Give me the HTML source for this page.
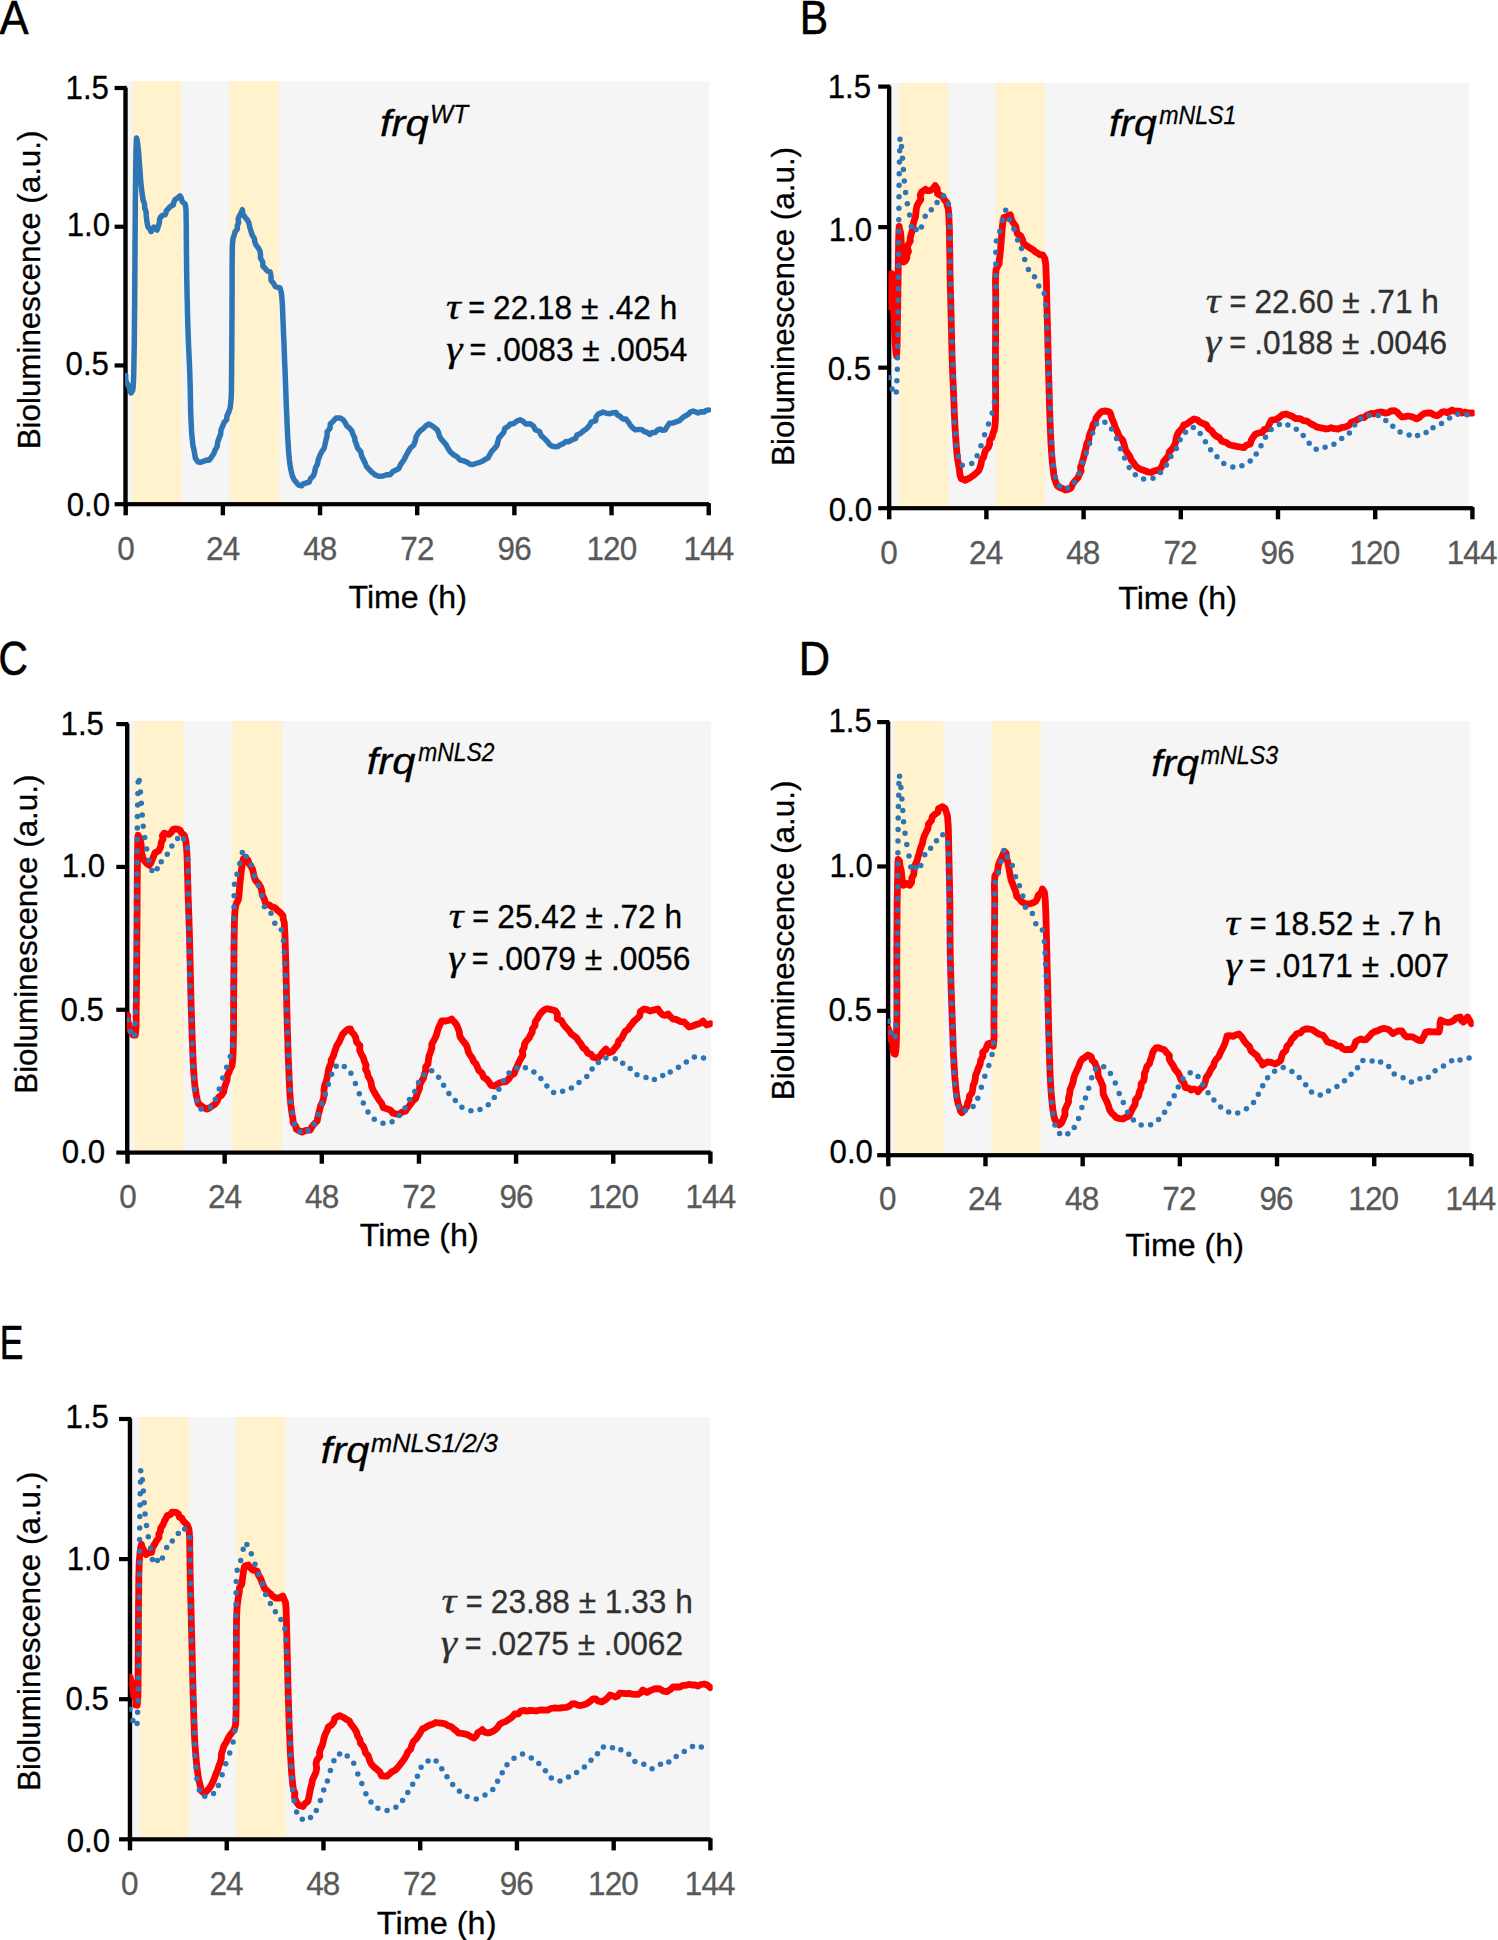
<!DOCTYPE html>
<html lang="en"><head><meta charset="utf-8"><title>Figure</title>
<style>
html,body{margin:0;padding:0;background:#fff;}
body{width:1498px;height:1940px;overflow:hidden;}
svg{display:block;}
text{white-space:pre;}
.s,.si{font-family:"Liberation Sans",sans-serif;}
.gi{font-family:"Liberation Serif",serif;font-style:italic;}
.si{font-style:italic;}
</style></head><body>
<svg width="1498" height="1940" viewBox="0 0 1498 1940">
<rect width="1498" height="1940" fill="#fff"/>
<g id="panel-A">
<rect x="124.40" y="81.30" width="584.60" height="422.70" fill="#F5F5F5"/>
<rect x="132.30" y="81.30" width="49.30" height="422.70" fill="#FFF2CC"/>
<rect x="229.60" y="81.30" width="49.40" height="422.70" fill="#FFF2CC"/>
<rect x="123.30" y="87.60" width="4.40" height="418.70" fill="#000"/>
<rect x="123.30" y="502.10" width="585.80" height="4.20" fill="#000"/>
<rect x="123.50" y="504.20" width="4.40" height="11.10" fill="#000"/>
<rect x="220.67" y="504.20" width="4.40" height="11.10" fill="#000"/>
<rect x="317.83" y="504.20" width="4.40" height="11.10" fill="#000"/>
<rect x="415.00" y="504.20" width="4.40" height="11.10" fill="#000"/>
<rect x="512.17" y="504.20" width="4.40" height="11.10" fill="#000"/>
<rect x="609.33" y="504.20" width="4.40" height="11.10" fill="#000"/>
<rect x="706.50" y="503.10" width="4.40" height="12.20" fill="#000"/>
<rect x="114.60" y="502.10" width="10.90" height="4.20" fill="#000"/>
<rect x="114.60" y="363.37" width="10.90" height="4.20" fill="#000"/>
<rect x="114.60" y="224.63" width="10.90" height="4.20" fill="#000"/>
<rect x="114.60" y="85.90" width="12.10" height="4.20" fill="#000"/>
<clipPath id="cpA"><rect x="124.95" y="58.00" width="586.05" height="456.20"/></clipPath>
<g clip-path="url(#cpA)">
<path d="M125.7 375.5 L125.7 378.9 L126.3 382.1 L128.0 385.0 L129.8 389.4 L131.0 393.0 L132.8 390.0 L133.3 385.1 L133.5 380.1 L133.7 375.0 L133.8 370.0 L133.9 364.5 L134.0 359.1 L134.1 353.6 L134.2 348.2 L134.3 342.7 L134.3 337.3 L134.4 331.8 L134.4 326.4 L134.5 320.9 L134.5 315.5 L134.6 310.0 L134.7 304.5 L134.7 299.1 L134.7 293.6 L134.8 288.2 L134.8 282.7 L134.8 277.3 L134.9 271.8 L134.9 266.4 L134.9 260.9 L135.0 255.5 L135.0 250.0 L135.0 244.2 L135.1 238.3 L135.1 232.5 L135.2 226.7 L135.2 220.8 L135.3 215.0 L135.3 209.2 L135.3 203.3 L135.4 197.5 L135.5 191.7 L135.5 185.8 L135.6 180.0 L135.7 174.6 L135.7 168.9 L135.8 163.2 L135.9 157.5 L136.0 152.0 L136.1 146.8 L136.3 142.1 L136.5 138.0 L137.1 140.0 L137.8 145.0 L138.3 149.5 L138.7 154.0 L139.0 158.5 L139.4 163.0 L139.8 168.3 L140.2 173.5 L140.5 178.8 L141.0 184.0 L141.6 189.3 L142.3 194.7 L143.1 200.0 L144.5 203.9 L144.7 208.0 L146.1 211.9 L146.3 216.0 L146.9 221.5 L147.9 226.8 L150.1 229.4 L151.1 231.6 L152.5 229.5 L153.8 227.0 L157.0 230.0 L158.2 226.8 L159.4 222.6 L159.7 218.6 L161.8 215.6 L165.5 214.5 L166.3 210.8 L169.0 207.8 L170.7 206.1 L173.3 205.0 L173.9 202.0 L175.1 199.5 L178.1 197.6 L180.0 195.8 L181.3 198.0 L182.1 201.5 L185.3 204.4 L186.0 210.1 L186.1 216.0 L186.2 221.7 L186.3 227.3 L186.3 233.0 L186.3 238.7 L186.4 244.3 L186.4 250.0 L186.5 255.0 L186.5 260.0 L186.6 265.0 L186.6 270.0 L186.7 275.0 L186.8 280.0 L186.9 285.6 L187.0 291.1 L187.1 296.7 L187.3 302.2 L187.4 307.8 L187.5 313.3 L187.7 318.9 L187.8 324.4 L188.0 330.0 L188.2 335.6 L188.4 341.1 L188.6 346.7 L188.9 352.2 L189.1 357.8 L189.4 363.3 L189.6 368.9 L189.8 374.4 L190.0 380.0 L190.2 385.7 L190.3 391.4 L190.4 397.1 L190.5 402.9 L190.6 408.6 L190.8 414.3 L191.0 420.0 L191.3 425.2 L191.5 430.4 L191.9 435.6 L192.4 440.8 L193.0 446.0 L194.0 450.0 L194.7 454.1 L195.4 458.2 L198.0 462.0 L200.9 462.3 L204.0 461.1 L206.6 460.1 L209.2 460.2 L211.4 457.1 L213.7 453.8 L215.1 450.1 L217.2 446.3 L217.7 442.0 L219.1 438.0 L220.7 434.1 L221.0 429.8 L222.8 425.9 L224.0 422.5 L226.7 419.7 L226.9 416.0 L228.9 411.8 L230.2 407.5 L230.7 403.0 L231.2 397.3 L231.4 391.5 L231.5 385.8 L231.5 380.0 L231.6 374.2 L231.6 368.3 L231.7 362.5 L231.7 356.7 L231.8 350.8 L231.8 345.0 L231.8 339.2 L231.9 333.3 L231.9 327.5 L231.9 321.7 L232.0 315.8 L232.0 310.0 L232.0 304.5 L232.0 299.1 L232.1 293.6 L232.1 288.2 L232.1 282.7 L232.1 277.3 L232.1 271.8 L232.1 266.4 L232.2 260.9 L232.2 255.5 L232.3 250.0 L232.4 244.2 L233.0 238.6 L234.2 235.2 L235.1 231.7 L237.4 229.0 L237.3 225.6 L238.6 222.6 L238.1 219.1 L239.2 216.1 L241.0 213.2 L242.4 209.7 L242.7 213.7 L245.5 217.9 L247.5 220.1 L248.9 223.0 L249.7 227.0 L250.9 231.0 L252.1 234.9 L254.3 238.4 L254.8 241.9 L256.0 245.1 L258.3 247.9 L260.0 251.0 L260.5 254.5 L260.5 258.1 L262.7 261.9 L262.9 266.0 L265.1 268.3 L267.1 270.9 L270.1 271.9 L271.0 275.9 L271.1 280.4 L273.5 283.3 L275.4 286.6 L280.0 288.0 L281.1 291.7 L281.7 295.9 L282.0 300.0 L282.4 305.0 L282.6 310.0 L282.8 315.0 L283.0 320.0 L283.2 325.0 L283.4 330.0 L283.6 335.6 L283.9 341.1 L284.1 346.7 L284.3 352.2 L284.5 357.8 L284.7 363.3 L285.0 368.9 L285.2 374.4 L285.4 380.0 L285.6 385.6 L285.8 391.1 L286.0 396.7 L286.2 402.2 L286.4 407.8 L286.7 413.3 L286.9 418.9 L287.1 424.4 L287.4 430.0 L287.6 435.0 L287.9 440.0 L288.2 445.0 L288.5 450.0 L288.9 455.0 L289.4 460.0 L290.1 465.4 L291.1 470.8 L292.4 476.0 L294.1 479.7 L296.6 482.8 L298.7 485.1 L301.6 485.8 L303.3 483.9 L306.0 483.0 L309.1 482.1 L310.6 478.5 L313.5 475.7 L314.7 471.9 L315.5 467.8 L317.5 464.0 L318.2 459.8 L319.7 455.9 L321.6 452.0 L324.1 448.3 L325.1 444.0 L326.0 440.0 L327.1 436.0 L327.1 431.7 L330.0 428.4 L330.3 424.0 L333.2 421.2 L336.0 418.1 L340.0 418.0 L343.0 419.6 L345.2 422.8 L347.0 426.1 L349.6 428.2 L351.9 431.0 L353.0 434.5 L354.7 437.7 L355.0 441.0 L356.3 443.9 L357.6 448.2 L360.8 451.7 L361.6 456.0 L363.5 459.8 L365.1 462.9 L366.4 466.4 L368.9 469.1 L372.0 472.4 L375.7 475.2 L379.3 476.3 L383.0 476.0 L386.4 474.8 L390.1 474.8 L392.6 471.7 L396.0 470.0 L398.9 468.5 L400.1 465.4 L401.8 462.9 L404.2 459.5 L406.0 455.7 L408.0 452.0 L410.2 448.3 L413.6 445.3 L415.2 441.2 L416.1 436.8 L418.2 433.1 L420.5 430.6 L423.4 428.5 L426.1 425.6 L429.0 424.0 L431.9 425.7 L435.1 427.9 L437.4 430.1 L438.7 433.1 L439.5 436.3 L441.4 439.4 L443.8 442.1 L446.2 444.9 L447.8 448.1 L450.2 451.8 L453.4 454.6 L457.2 456.9 L460.0 460.0 L463.7 460.9 L467.2 462.3 L470.0 464.2 L473.0 464.5 L476.0 463.5 L479.2 462.5 L482.4 461.3 L485.3 459.4 L488.2 457.8 L489.7 454.8 L491.6 451.5 L494.4 448.6 L496.9 445.5 L497.9 441.8 L498.8 438.1 L501.3 435.2 L503.7 432.5 L504.8 428.4 L508.3 426.4 L510.2 424.0 L513.4 423.7 L516.7 421.3 L520.0 419.7 L522.9 421.2 L525.6 423.9 L530.1 423.8 L533.4 426.0 L535.3 429.7 L539.5 431.5 L541.2 435.6 L544.5 438.5 L547.5 441.6 L549.3 444.3 L552.0 446.1 L555.0 446.8 L558.0 446.5 L560.4 444.7 L563.3 443.6 L565.8 441.5 L568.9 441.7 L572.0 439.9 L575.6 438.5 L576.9 435.1 L579.9 433.8 L583.2 431.1 L586.7 428.7 L589.4 425.7 L591.2 422.2 L595.7 420.6 L596.1 416.8 L598.1 414.1 L600.6 413.2 L603.0 412.0 L606.3 413.3 L610.0 413.7 L613.1 412.7 L616.0 412.5 L617.5 415.0 L620.3 416.5 L622.7 418.9 L625.9 419.1 L628.6 422.4 L630.9 426.1 L633.1 428.2 L635.7 429.9 L639.0 429.4 L642.1 429.8 L644.4 431.7 L647.3 432.5 L650.0 434.5 L652.1 432.6 L655.2 432.5 L657.4 430.1 L660.0 429.0 L662.5 430.3 L665.0 430.0 L667.0 426.8 L669.4 423.2 L673.0 422.9 L676.0 421.8 L679.6 420.6 L682.2 418.0 L685.1 416.0 L688.2 414.3 L690.4 412.0 L693.0 411.0 L695.4 411.9 L698.0 413.0 L700.8 411.8 L704.1 412.0 L706.2 410.4 L708.7 410.0" fill="none" stroke="#2E75B6" stroke-width="5.5" stroke-linejoin="round" stroke-linecap="round"/>
</g>
<text transform="translate(117.19 560.40) scale(0.9750 1)" class="s" font-size="32.30" letter-spacing="-0.9" fill="#595959" stroke="#595959" stroke-width="0.3" stroke-linejoin="round">0</text>
<text transform="translate(206.04 560.40) scale(0.9750 1)" class="s" font-size="32.30" letter-spacing="-0.9" fill="#595959" stroke="#595959" stroke-width="0.3" stroke-linejoin="round">24</text>
<text transform="translate(303.21 560.40) scale(0.9750 1)" class="s" font-size="32.30" letter-spacing="-0.9" fill="#595959" stroke="#595959" stroke-width="0.3" stroke-linejoin="round">48</text>
<text transform="translate(400.37 560.40) scale(0.9750 1)" class="s" font-size="32.30" letter-spacing="-0.9" fill="#595959" stroke="#595959" stroke-width="0.3" stroke-linejoin="round">72</text>
<text transform="translate(497.54 560.40) scale(0.9750 1)" class="s" font-size="32.30" letter-spacing="-0.9" fill="#595959" stroke="#595959" stroke-width="0.3" stroke-linejoin="round">96</text>
<text transform="translate(586.39 560.40) scale(0.9750 1)" class="s" font-size="32.30" letter-spacing="-0.9" fill="#595959" stroke="#595959" stroke-width="0.3" stroke-linejoin="round">120</text>
<text transform="translate(683.55 560.40) scale(0.9750 1)" class="s" font-size="32.30" letter-spacing="-0.9" fill="#595959" stroke="#595959" stroke-width="0.3" stroke-linejoin="round">144</text>
<text transform="translate(66.70 515.70) scale(0.9660 1)" class="s" font-size="32.30" fill="#000" stroke="#000" stroke-width="0.3" stroke-linejoin="round">0.0</text>
<text transform="translate(65.58 374.50) scale(0.9660 1)" class="s" font-size="32.30" fill="#000" stroke="#000" stroke-width="0.3" stroke-linejoin="round">0.5</text>
<text transform="translate(66.70 235.90) scale(0.9660 1)" class="s" font-size="32.30" fill="#000" stroke="#000" stroke-width="0.3" stroke-linejoin="round">1.0</text>
<text transform="translate(65.58 98.60) scale(0.9660 1)" class="s" font-size="32.30" fill="#000" stroke="#000" stroke-width="0.3" stroke-linejoin="round">1.5</text>
<text transform="translate(348.56 608.00) scale(1.0362 1)" class="s" font-size="31.00" fill="#000" stroke="#000" stroke-width="0.3" stroke-linejoin="round">Time (h)</text>
<text transform="translate(39.90 449.31) rotate(-90) scale(1.0115 1)" class="s" font-size="31.00" fill="#000" stroke="#000" stroke-width="0.3" stroke-linejoin="round">Bioluminescence (a.u.)</text>
<text y="135.60" fill="#000" stroke="#000" stroke-width="0.3" stroke-linejoin="round"><tspan class="si" x="379.95" font-size="37.20" textLength="48.65" lengthAdjust="spacingAndGlyphs">frq</tspan><tspan class="si" x="430.02" dy="-12.60" font-size="26.60" textLength="38.11" lengthAdjust="spacingAndGlyphs">WT</tspan></text>
<text y="319.30" fill="#000" stroke="#000" stroke-width="0.3" stroke-linejoin="round"><tspan class="gi" x="446.07" font-size="36.00" textLength="14.80" lengthAdjust="spacingAndGlyphs">τ</tspan> <tspan class="s" x="468.14" font-size="32.50" textLength="16.77" lengthAdjust="spacingAndGlyphs">=</tspan> <tspan class="s" x="493.12" font-size="32.50" textLength="184.09" lengthAdjust="spacingAndGlyphs">22.18 ± .42 h</tspan></text>
<text y="361.20" fill="#000" stroke="#000" stroke-width="0.3" stroke-linejoin="round"><tspan class="gi" x="446.18" font-size="36.00" textLength="16.26" lengthAdjust="spacingAndGlyphs">γ</tspan> <tspan class="s" x="469.54" font-size="32.50" textLength="16.77" lengthAdjust="spacingAndGlyphs">=</tspan> <tspan class="s" x="494.46" font-size="32.50" textLength="192.98" lengthAdjust="spacingAndGlyphs">.0083 ± .0054</tspan></text>
<text transform="translate(-0.50 34.20) scale(0.9004 1)" class="s" font-size="48.60" fill="#000" stroke="#000" stroke-width="0.6" stroke-linejoin="round">A</text>
</g>
<g id="panel-B">
<rect x="890.00" y="82.90" width="578.80" height="425.10" fill="#F5F5F5"/>
<rect x="899.00" y="82.90" width="49.20" height="425.10" fill="#FFF2CC"/>
<rect x="995.70" y="82.90" width="49.10" height="425.10" fill="#FFF2CC"/>
<rect x="886.95" y="86.20" width="4.40" height="424.10" fill="#000"/>
<rect x="886.95" y="506.10" width="585.85" height="4.20" fill="#000"/>
<rect x="887.00" y="508.20" width="4.40" height="11.10" fill="#000"/>
<rect x="984.20" y="508.20" width="4.40" height="11.10" fill="#000"/>
<rect x="1081.40" y="508.20" width="4.40" height="11.10" fill="#000"/>
<rect x="1178.60" y="508.20" width="4.40" height="11.10" fill="#000"/>
<rect x="1275.80" y="508.20" width="4.40" height="11.10" fill="#000"/>
<rect x="1373.00" y="508.20" width="4.40" height="11.10" fill="#000"/>
<rect x="1470.20" y="507.10" width="4.40" height="12.20" fill="#000"/>
<rect x="878.25" y="506.10" width="10.90" height="4.20" fill="#000"/>
<rect x="878.25" y="365.57" width="10.90" height="4.20" fill="#000"/>
<rect x="878.25" y="225.03" width="10.90" height="4.20" fill="#000"/>
<rect x="878.25" y="84.50" width="12.10" height="4.20" fill="#000"/>
<clipPath id="cpB"><rect x="888.45" y="56.60" width="586.25" height="461.60"/></clipPath>
<g clip-path="url(#cpB)">
<path d="M889.6 307.0 L889.8 301.3 L890.1 295.7 L890.4 290.0 L890.8 283.0 L891.3 276.0 L891.7 273.5 L892.0 276.2 L892.4 281.2 L892.6 287.4 L892.9 294.0 L893.2 300.0 L893.5 305.7 L893.7 311.4 L893.9 317.1 L894.2 322.9 L894.4 328.6 L894.7 334.3 L895.0 340.0 L895.5 347.0 L896.1 354.0 L896.5 356.0 L896.7 353.2 L896.9 348.9 L897.1 343.7 L897.2 337.8 L897.3 331.6 L897.4 325.5 L897.5 320.0 L897.6 314.2 L897.7 308.3 L897.8 302.5 L897.9 296.7 L897.9 290.8 L898.0 285.0 L898.1 279.2 L898.2 273.3 L898.2 267.5 L898.3 261.7 L898.4 255.8 L898.5 250.0 L898.6 243.6 L898.7 237.0 L898.9 230.9 L899.2 226.3 L899.2 228.1 L900.5 232.0 L900.9 236.3 L901.2 240.7 L901.5 245.0 L901.8 249.0 L902.2 253.0 L902.6 257.0 L902.8 259.8 L903.8 262.0 L905.3 261.0 L906.8 258.2 L906.8 255.0 L908.5 251.5 L907.3 247.5 L908.6 243.9 L910.3 241.1 L910.2 237.9 L910.9 234.9 L912.0 231.5 L912.8 228.0 L913.2 224.4 L914.0 220.9 L915.4 217.1 L915.9 213.0 L916.3 208.8 L917.2 205.4 L918.9 202.3 L920.9 199.3 L920.2 195.2 L921.8 191.8 L925.5 189.3 L927.5 190.7 L930.0 190.5 L932.8 188.8 L935.3 185.7 L937.3 188.9 L937.5 193.8 L940.1 195.1 L942.7 196.3 L944.2 199.7 L946.7 202.4 L947.1 205.5 L948.2 208.3 L948.7 213.6 L949.0 219.0 L949.2 224.3 L949.4 229.4 L949.5 234.6 L949.5 239.7 L949.6 244.9 L949.7 250.0 L949.8 255.0 L949.9 260.0 L949.9 265.0 L950.0 270.0 L950.1 275.0 L950.2 280.0 L950.3 285.7 L950.5 291.4 L950.6 297.1 L950.8 302.9 L950.9 308.6 L951.1 314.3 L951.2 320.0 L951.3 325.7 L951.5 331.4 L951.6 337.1 L951.7 342.9 L951.9 348.6 L952.0 354.3 L952.2 360.0 L952.4 365.7 L952.6 371.4 L952.8 377.1 L953.1 382.9 L953.3 388.6 L953.6 394.3 L953.8 400.0 L954.0 405.0 L954.2 410.0 L954.4 415.0 L954.7 420.0 L954.9 425.0 L955.2 430.0 L955.5 435.2 L955.9 440.4 L956.3 445.6 L956.7 450.8 L957.2 456.0 L957.7 460.0 L958.4 464.0 L959.2 468.0 L959.6 471.7 L960.0 475.3 L961.3 478.7 L965.3 480.3 L967.2 479.2 L969.4 478.2 L972.9 475.8 L975.9 473.4 L978.8 470.6 L980.1 467.2 L981.1 463.7 L981.7 460.1 L983.7 457.0 L984.5 453.5 L985.7 450.1 L988.5 447.3 L989.6 443.9 L989.7 440.1 L992.1 437.1 L992.9 433.5 L994.3 430.2 L995.0 425.2 L995.4 420.1 L995.5 415.0 L995.6 409.4 L995.6 403.8 L995.6 398.1 L995.6 392.5 L995.6 386.9 L995.5 381.3 L995.5 375.6 L995.5 370.0 L995.5 364.2 L995.5 358.3 L995.5 352.5 L995.5 346.7 L995.6 340.8 L995.6 335.0 L995.6 329.2 L995.6 323.3 L995.6 317.5 L995.6 311.7 L995.7 305.8 L995.7 300.0 L995.7 295.0 L995.6 290.0 L995.5 285.0 L995.5 279.9 L995.7 275.0 L996.0 270.0 L997.3 266.8 L999.2 263.7 L999.3 260.0 L1000.0 255.1 L1000.5 250.2 L1000.9 245.2 L1001.3 240.3 L1001.7 235.3 L1002.1 230.2 L1002.5 225.2 L1003.3 220.3 L1003.8 217.6 L1006.6 216.7 L1010.3 214.7 L1011.1 218.4 L1012.9 222.5 L1015.6 226.0 L1016.5 230.2 L1017.4 233.9 L1020.8 236.0 L1022.5 239.7 L1023.7 243.8 L1026.5 245.6 L1029.2 247.5 L1033.0 249.7 L1035.0 251.7 L1037.5 253.0 L1039.8 254.6 L1042.7 254.9 L1044.8 258.4 L1045.7 264.1 L1046.0 270.0 L1046.2 275.0 L1046.4 280.0 L1046.5 285.0 L1046.6 290.0 L1046.7 295.0 L1046.8 300.0 L1046.9 305.7 L1047.1 311.4 L1047.2 317.1 L1047.4 322.9 L1047.5 328.6 L1047.7 334.3 L1047.8 340.0 L1047.9 345.7 L1048.1 351.4 L1048.2 357.1 L1048.4 362.9 L1048.5 368.6 L1048.6 374.3 L1048.8 380.0 L1049.0 385.7 L1049.1 391.4 L1049.3 397.1 L1049.4 402.9 L1049.6 408.6 L1049.8 414.3 L1050.0 420.0 L1050.2 425.1 L1050.4 430.1 L1050.6 435.2 L1050.8 440.2 L1051.1 445.3 L1051.4 450.3 L1051.8 455.3 L1052.2 460.3 L1052.7 465.3 L1053.4 470.3 L1053.7 474.8 L1054.7 479.2 L1056.2 483.4 L1057.8 486.3 L1060.7 487.9 L1063.1 488.8 L1065.4 490.0 L1068.2 489.4 L1071.0 488.0 L1072.6 484.2 L1074.9 481.0 L1077.8 478.0 L1079.5 474.2 L1081.1 471.0 L1080.5 467.2 L1081.8 464.0 L1082.9 460.0 L1084.0 456.0 L1084.8 451.9 L1086.0 448.0 L1086.7 443.9 L1088.7 440.2 L1089.1 435.9 L1090.6 432.0 L1092.3 428.1 L1093.1 424.6 L1095.4 421.6 L1096.0 418.0 L1098.0 415.4 L1100.0 413.0 L1102.2 411.3 L1105.0 411.0 L1107.7 411.3 L1109.7 412.3 L1110.9 414.8 L1111.7 418.1 L1113.2 421.4 L1114.5 424.7 L1115.6 428.2 L1117.6 432.2 L1119.1 436.4 L1122.5 439.8 L1123.7 443.2 L1124.7 446.6 L1125.6 450.2 L1127.7 453.3 L1129.9 456.4 L1131.1 459.9 L1133.6 462.9 L1135.9 466.2 L1138.7 468.4 L1142.1 469.8 L1145.1 470.8 L1148.0 472.0 L1151.1 472.5 L1154.0 471.0 L1156.7 470.4 L1159.6 469.6 L1162.1 466.0 L1163.5 461.7 L1166.0 458.7 L1168.5 455.6 L1169.4 451.6 L1171.9 449.1 L1173.8 446.3 L1175.4 443.2 L1176.0 439.2 L1177.0 435.4 L1178.8 431.9 L1181.9 428.7 L1183.8 424.8 L1186.5 424.2 L1188.7 422.5 L1191.4 420.6 L1194.0 419.0 L1197.1 419.7 L1199.8 422.0 L1202.9 423.5 L1206.2 424.7 L1208.4 428.6 L1211.9 431.1 L1213.7 433.9 L1216.2 436.1 L1219.4 437.6 L1221.9 441.3 L1226.3 442.5 L1229.4 444.7 L1233.1 445.7 L1236.5 446.3 L1240.0 447.0 L1243.8 447.7 L1246.7 445.0 L1250.2 444.2 L1251.2 440.4 L1253.1 437.3 L1255.3 434.3 L1258.7 433.0 L1262.2 432.4 L1264.1 429.5 L1267.7 428.6 L1269.2 424.2 L1271.4 420.2 L1275.5 419.7 L1278.9 417.8 L1282.1 414.9 L1286.0 414.0 L1289.0 415.1 L1292.3 416.3 L1295.8 418.6 L1300.1 418.6 L1303.4 420.6 L1307.2 421.1 L1310.5 423.6 L1314.1 425.4 L1317.3 427.2 L1321.0 427.9 L1323.6 428.3 L1326.0 429.0 L1328.6 428.6 L1331.0 427.7 L1334.4 428.7 L1338.0 429.0 L1341.9 427.5 L1345.9 426.8 L1349.1 425.2 L1351.4 422.2 L1355.0 421.0 L1358.2 419.3 L1360.9 417.6 L1364.2 417.5 L1366.5 415.4 L1369.1 414.3 L1371.4 413.3 L1374.1 413.8 L1377.0 412.6 L1380.0 412.0 L1382.6 412.2 L1385.0 413.0 L1388.2 412.7 L1391.0 411.0 L1394.2 410.7 L1397.0 412.0 L1399.4 414.7 L1402.0 417.0 L1404.9 416.6 L1408.0 416.0 L1411.1 416.5 L1414.0 417.7 L1416.6 418.8 L1419.0 417.7 L1421.3 415.5 L1423.9 413.7 L1427.4 413.0 L1431.0 413.0 L1433.9 414.9 L1437.0 415.7 L1439.6 414.2 L1442.0 412.0 L1444.5 411.6 L1447.0 412.5 L1449.7 411.5 L1452.0 410.0 L1454.3 411.2 L1456.9 411.2 L1459.9 411.2 L1462.0 413.0 L1465.0 412.1 L1468.0 413.0 L1472.4 413.0" fill="none" stroke="#FF0000" stroke-width="6.8" stroke-linejoin="round" stroke-linecap="round"/>
<path d="M889.2 377.8h0 M892.1 389.0h0 M896.3 392.1h0 M896.9 380.7h0 M897.3 369.2h0 M897.5 357.8h0 M897.6 346.2h0 M897.8 334.7h0 M897.9 323.3h0 M898.1 311.7h0 M898.2 300.2h0 M898.3 288.8h0 M898.3 277.2h0 M898.4 265.7h0 M898.5 254.3h0 M898.6 242.7h0 M898.7 231.3h0 M898.8 219.7h0 M898.9 208.2h0 M899.0 196.8h0 M899.1 185.2h0 M899.2 173.8h0 M899.5 162.1h0 M899.7 150.7h0 M900.0 139.3h0 M901.5 146.5h0 M902.5 158.2h0 M903.4 169.6h0 M904.3 181.0h0 M905.6 192.4h0 M907.3 203.8h0 M909.6 215.1h0 M911.3 226.4h0 M916.2 229.4h0 M921.4 227.1h0 M925.2 216.2h0 M931.3 209.8h0 M937.1 202.5h0 M943.6 196.0h0 M948.4 204.0h0 M949.6 215.5h0 M949.7 226.9h0 M949.8 238.3h0 M949.9 249.9h0 M950.1 261.4h0 M950.2 272.8h0 M950.4 284.3h0 M950.7 295.9h0 M950.9 307.3h0 M951.2 318.9h0 M951.5 330.3h0 M951.9 341.7h0 M952.4 353.4h0 M952.8 364.8h0 M953.3 376.4h0 M953.7 387.8h0 M953.9 399.2h0 M954.2 410.9h0 M954.5 422.3h0 M955.3 433.7h0 M956.2 445.3h0 M958.3 456.5h0 M962.3 465.3h0 M971.7 463.6h0 M977.1 455.7h0 M981.0 445.8h0 M984.6 434.8h0 M988.5 423.9h0 M992.2 413.0h0 M994.4 401.9h0 M994.8 390.4h0 M995.1 379.0h0 M995.1 367.4h0 M995.2 355.9h0 M995.3 344.3h0 M995.4 332.9h0 M995.5 321.5h0 M995.5 309.9h0 M995.6 298.4h0 M995.7 286.8h0 M995.7 275.4h0 M995.8 263.9h0 M995.8 252.3h0 M996.4 241.0h0 M999.8 231.5h0 M1002.3 220.3h0 M1005.7 210.2h0 M1009.4 219.8h0 M1013.9 229.1h0 M1017.6 239.9h0 M1021.5 248.5h0 M1024.7 259.6h0 M1028.4 269.4h0 M1034.5 276.7h0 M1038.8 286.0h0 M1044.2 293.4h0 M1045.7 304.7h0 M1046.2 316.3h0 M1046.8 327.7h0 M1047.3 339.3h0 M1047.7 350.8h0 M1048.2 362.4h0 M1048.6 373.8h0 M1049.1 385.2h0 M1049.5 396.8h0 M1050.0 408.2h0 M1050.4 419.8h0 M1050.9 431.2h0 M1051.6 442.6h0 M1052.4 454.2h0 M1053.4 465.6h0 M1055.4 476.9h0 M1059.6 486.0h0 M1067.5 488.0h0 M1074.6 482.2h0 M1079.2 473.5h0 M1082.6 462.5h0 M1086.2 453.0h0 M1089.5 443.5h0 M1092.6 432.9h0 M1096.5 424.1h0 M1104.9 422.2h0 M1111.6 429.0h0 M1116.5 438.5h0 M1120.4 448.8h0 M1124.6 458.0h0 M1129.2 467.5h0 M1135.3 474.7h0 M1143.6 479.0h0 M1153.0 478.2h0 M1160.5 472.5h0 M1166.4 465.1h0 M1170.9 456.6h0 M1176.4 448.6h0 M1180.1 439.8h0 M1185.5 432.2h0 M1193.3 427.4h0 M1200.2 433.6h0 M1205.4 441.8h0 M1210.6 449.8h0 M1217.0 456.8h0 M1223.8 463.5h0 M1232.8 467.0h0 M1241.9 465.8h0 M1250.2 461.1h0 M1256.2 454.0h0 M1261.0 445.7h0 M1265.5 437.2h0 M1271.2 429.5h0 M1279.4 424.6h0 M1287.9 425.0h0 M1296.3 429.2h0 M1303.2 435.6h0 M1309.2 443.2h0 M1316.2 449.3h0 M1325.1 447.3h0 M1333.9 444.3h0 M1341.7 438.5h0 M1349.4 433.0h0 M1354.7 424.9h0 M1360.8 418.5h0 M1369.0 415.4h0 M1378.3 415.6h0 M1385.8 420.6h0 M1392.8 426.3h0 M1400.1 432.1h0 M1409.1 435.1h0 M1417.6 435.6h0 M1426.1 432.5h0 M1433.0 427.7h0 M1441.5 423.4h0 M1449.6 418.1h0 M1457.8 414.3h0 M1466.9 414.7h0" fill="none" stroke="#2E75B6" stroke-width="5.5" stroke-linecap="round"/>
</g>
<text transform="translate(880.14 564.40) scale(0.9750 1)" class="s" font-size="32.30" letter-spacing="-0.9" fill="#595959" stroke="#595959" stroke-width="0.3" stroke-linejoin="round">0</text>
<text transform="translate(969.02 564.40) scale(0.9750 1)" class="s" font-size="32.30" letter-spacing="-0.9" fill="#595959" stroke="#595959" stroke-width="0.3" stroke-linejoin="round">24</text>
<text transform="translate(1066.22 564.40) scale(0.9750 1)" class="s" font-size="32.30" letter-spacing="-0.9" fill="#595959" stroke="#595959" stroke-width="0.3" stroke-linejoin="round">48</text>
<text transform="translate(1163.42 564.40) scale(0.9750 1)" class="s" font-size="32.30" letter-spacing="-0.9" fill="#595959" stroke="#595959" stroke-width="0.3" stroke-linejoin="round">72</text>
<text transform="translate(1260.62 564.40) scale(0.9750 1)" class="s" font-size="32.30" letter-spacing="-0.9" fill="#595959" stroke="#595959" stroke-width="0.3" stroke-linejoin="round">96</text>
<text transform="translate(1349.50 564.40) scale(0.9750 1)" class="s" font-size="32.30" letter-spacing="-0.9" fill="#595959" stroke="#595959" stroke-width="0.3" stroke-linejoin="round">120</text>
<text transform="translate(1446.70 564.40) scale(0.9750 1)" class="s" font-size="32.30" letter-spacing="-0.9" fill="#595959" stroke="#595959" stroke-width="0.3" stroke-linejoin="round">144</text>
<text transform="translate(828.80 520.50) scale(0.9660 1)" class="s" font-size="32.30" fill="#000" stroke="#000" stroke-width="0.3" stroke-linejoin="round">0.0</text>
<text transform="translate(827.68 379.70) scale(0.9660 1)" class="s" font-size="32.30" fill="#000" stroke="#000" stroke-width="0.3" stroke-linejoin="round">0.5</text>
<text transform="translate(828.80 240.70) scale(0.9660 1)" class="s" font-size="32.30" fill="#000" stroke="#000" stroke-width="0.3" stroke-linejoin="round">1.0</text>
<text transform="translate(827.68 98.10) scale(0.9660 1)" class="s" font-size="32.30" fill="#000" stroke="#000" stroke-width="0.3" stroke-linejoin="round">1.5</text>
<text transform="translate(1118.16 609.30) scale(1.0398 1)" class="s" font-size="31.00" fill="#000" stroke="#000" stroke-width="0.3" stroke-linejoin="round">Time (h)</text>
<text transform="translate(794.30 465.91) rotate(-90) scale(1.0121 1)" class="s" font-size="31.00" fill="#000" stroke="#000" stroke-width="0.3" stroke-linejoin="round">Bioluminescence (a.u.)</text>
<text y="135.80" fill="#000" stroke="#000" stroke-width="0.3" stroke-linejoin="round"><tspan class="si" x="1108.97" font-size="37.20" textLength="47.82" lengthAdjust="spacingAndGlyphs">frq</tspan><tspan class="si" x="1159.15" dy="-12.20" font-size="26.60" textLength="77.20" lengthAdjust="spacingAndGlyphs">mNLS1</tspan></text>
<text y="313.40" fill="#303030" stroke="#303030" stroke-width="0.3" stroke-linejoin="round"><tspan class="gi" x="1205.77" font-size="36.00" textLength="14.80" lengthAdjust="spacingAndGlyphs">τ</tspan> <tspan class="s" x="1229.44" font-size="32.50" textLength="16.77" lengthAdjust="spacingAndGlyphs">=</tspan> <tspan class="s" x="1254.42" font-size="32.50" textLength="184.50" lengthAdjust="spacingAndGlyphs">22.60 ± .71 h</tspan></text>
<text y="354.20" fill="#303030" stroke="#303030" stroke-width="0.3" stroke-linejoin="round"><tspan class="gi" x="1205.08" font-size="36.00" textLength="16.26" lengthAdjust="spacingAndGlyphs">γ</tspan> <tspan class="s" x="1229.24" font-size="32.50" textLength="16.77" lengthAdjust="spacingAndGlyphs">=</tspan> <tspan class="s" x="1254.16" font-size="32.50" textLength="192.85" lengthAdjust="spacingAndGlyphs">.0188 ± .0046</tspan></text>
<text transform="translate(799.79 34.20) scale(0.8769 1)" class="s" font-size="48.60" fill="#000" stroke="#000" stroke-width="0.6" stroke-linejoin="round">B</text>
</g>
<g id="panel-C">
<rect x="128.00" y="721.10" width="583.20" height="430.90" fill="#F5F5F5"/>
<rect x="134.00" y="721.10" width="49.90" height="430.90" fill="#FFF2CC"/>
<rect x="232.30" y="721.10" width="49.50" height="430.90" fill="#FFF2CC"/>
<rect x="125.00" y="723.70" width="4.40" height="431.00" fill="#000"/>
<rect x="125.00" y="1150.50" width="585.80" height="4.20" fill="#000"/>
<rect x="125.30" y="1152.60" width="4.40" height="11.10" fill="#000"/>
<rect x="222.45" y="1152.60" width="4.40" height="11.10" fill="#000"/>
<rect x="319.60" y="1152.60" width="4.40" height="11.10" fill="#000"/>
<rect x="416.75" y="1152.60" width="4.40" height="11.10" fill="#000"/>
<rect x="513.90" y="1152.60" width="4.40" height="11.10" fill="#000"/>
<rect x="611.05" y="1152.60" width="4.40" height="11.10" fill="#000"/>
<rect x="708.20" y="1151.50" width="4.40" height="12.20" fill="#000"/>
<rect x="116.30" y="1150.50" width="10.90" height="4.20" fill="#000"/>
<rect x="116.30" y="1007.67" width="10.90" height="4.20" fill="#000"/>
<rect x="116.30" y="864.83" width="10.90" height="4.20" fill="#000"/>
<rect x="116.30" y="722.00" width="12.10" height="4.20" fill="#000"/>
<clipPath id="cpC"><rect x="126.75" y="694.10" width="585.95" height="468.50"/></clipPath>
<g clip-path="url(#cpC)">
<path d="M127.7 1015.5 L127.5 1019.9 L128.7 1024.1 L129.4 1028.4 L131.3 1032.2 L132.9 1035.2 L135.2 1035.2 L135.8 1031.0 L136.1 1026.1 L136.2 1020.7 L136.2 1015.3 L136.2 1010.0 L136.3 1004.5 L136.4 999.1 L136.4 993.6 L136.5 988.2 L136.6 982.7 L136.6 977.3 L136.6 971.8 L136.7 966.4 L136.7 960.9 L136.8 955.5 L136.8 950.0 L136.8 944.5 L136.9 939.1 L136.9 933.6 L137.0 928.2 L137.0 922.7 L137.0 917.3 L137.1 911.8 L137.1 906.4 L137.1 900.9 L137.2 895.5 L137.2 890.0 L137.2 884.3 L137.3 878.6 L137.3 872.9 L137.4 867.1 L137.4 861.4 L137.5 855.7 L137.6 850.0 L137.7 844.0 L137.8 838.0 L138.2 835.3 L139.0 836.9 L140.5 840.8 L141.3 845.7 L141.2 850.3 L141.8 853.8 L142.8 857.2 L144.1 860.4 L146.8 863.6 L149.2 865.3 L150.7 863.3 L152.2 859.9 L153.5 856.5 L155.0 852.7 L158.8 850.7 L160.7 846.7 L161.3 842.3 L162.9 839.3 L162.4 835.6 L164.2 833.3 L166.5 833.9 L169.2 834.3 L171.4 832.1 L173.2 829.3 L175.6 828.8 L178.2 829.3 L180.4 830.5 L181.4 832.9 L184.2 835.1 L185.2 838.3 L186.0 842.2 L186.4 846.3 L186.7 850.3 L187.0 855.3 L187.2 860.3 L187.3 865.3 L187.4 870.3 L187.6 875.3 L187.7 880.3 L187.9 885.2 L188.0 890.2 L188.1 895.1 L188.3 900.0 L188.5 905.0 L188.6 910.0 L188.8 915.0 L189.0 920.0 L189.1 925.0 L189.3 930.0 L189.5 935.7 L189.6 941.4 L189.7 947.1 L189.9 952.9 L190.0 958.6 L190.2 964.3 L190.3 970.0 L190.4 975.7 L190.6 981.4 L190.7 987.1 L190.8 992.9 L191.0 998.6 L191.1 1004.3 L191.3 1010.0 L191.5 1015.7 L191.7 1021.4 L191.8 1027.1 L192.0 1032.9 L192.2 1038.6 L192.5 1044.3 L192.7 1050.0 L192.9 1055.0 L193.1 1060.0 L193.3 1065.0 L193.6 1070.0 L193.9 1075.0 L194.3 1080.0 L194.8 1085.0 L195.5 1090.1 L196.3 1095.1 L197.3 1100.0 L198.2 1103.4 L200.9 1105.4 L204.3 1108.0 L206.8 1109.0 L209.3 1108.0 L211.9 1106.2 L214.7 1104.4 L217.1 1101.2 L218.5 1097.5 L221.6 1095.0 L223.7 1091.9 L224.3 1088.0 L225.7 1084.0 L227.1 1080.1 L227.4 1075.7 L228.9 1072.4 L230.2 1069.1 L231.9 1066.0 L232.6 1061.1 L232.9 1056.1 L233.2 1051.0 L233.3 1046.0 L233.4 1040.4 L233.5 1034.8 L233.6 1029.2 L233.6 1023.6 L233.6 1018.0 L233.6 1012.4 L233.6 1006.8 L233.6 1001.2 L233.7 995.6 L233.7 990.0 L233.7 984.5 L233.8 979.1 L233.8 973.6 L233.9 968.2 L233.9 962.7 L233.9 957.3 L234.0 951.8 L234.0 946.4 L234.1 940.9 L234.2 935.5 L234.3 930.0 L234.4 924.5 L234.5 918.9 L234.8 913.4 L235.3 908.0 L236.2 903.8 L238.3 900.0 L239.0 895.1 L239.4 890.2 L239.8 885.2 L240.3 880.3 L240.8 875.8 L241.3 871.2 L241.9 866.7 L242.7 862.3 L243.2 859.0 L245.3 857.3 L248.1 860.4 L249.1 863.7 L251.1 866.4 L252.6 869.5 L253.4 873.0 L254.0 876.4 L255.7 880.6 L258.9 884.1 L260.7 887.2 L261.8 890.7 L262.1 894.4 L263.4 897.1 L264.6 899.9 L266.0 904.5 L269.3 904.9 L271.9 906.9 L275.1 907.7 L277.3 910.1 L280.4 912.6 L283.0 915.7 L283.2 919.2 L284.3 922.5 L284.4 926.0 L284.7 930.8 L285.0 935.6 L285.1 940.4 L285.3 945.2 L285.4 950.0 L285.6 955.7 L285.7 961.4 L285.9 967.1 L286.0 972.9 L286.1 978.6 L286.3 984.3 L286.4 990.0 L286.5 995.7 L286.7 1001.4 L286.8 1007.1 L286.9 1012.9 L287.1 1018.6 L287.2 1024.3 L287.4 1030.0 L287.6 1035.7 L287.8 1041.4 L287.9 1047.1 L288.1 1052.9 L288.3 1058.6 L288.6 1064.3 L288.8 1070.0 L289.0 1075.0 L289.2 1080.0 L289.5 1085.0 L289.7 1090.0 L290.0 1095.0 L290.4 1100.0 L290.8 1104.6 L291.4 1109.2 L292.0 1113.8 L292.8 1118.3 L293.2 1122.6 L295.6 1126.2 L296.4 1129.3 L299.1 1130.8 L302.0 1132.0 L305.9 1130.4 L310.2 1130.1 L312.1 1126.6 L314.5 1123.7 L317.2 1120.9 L317.8 1117.2 L318.7 1113.5 L319.7 1109.9 L320.5 1105.9 L322.5 1102.1 L323.5 1098.1 L324.1 1094.0 L323.9 1089.8 L324.6 1085.8 L326.0 1081.9 L327.0 1078.0 L327.9 1074.0 L328.4 1070.3 L329.3 1066.8 L331.1 1063.5 L331.2 1059.7 L333.2 1056.5 L334.2 1052.9 L335.5 1049.4 L336.6 1045.9 L339.1 1042.1 L340.8 1038.1 L342.5 1034.3 L345.5 1031.1 L348.0 1029.2 L350.5 1029.0 L351.3 1031.7 L354.0 1034.4 L355.7 1037.6 L356.6 1042.2 L359.9 1045.7 L359.6 1050.2 L361.3 1054.1 L363.4 1057.8 L364.5 1061.8 L366.1 1065.2 L365.5 1069.3 L367.4 1072.6 L368.1 1076.3 L370.1 1079.5 L371.2 1083.1 L371.7 1086.9 L373.3 1090.3 L375.1 1093.6 L377.1 1096.8 L379.0 1100.0 L381.7 1103.4 L383.3 1107.7 L387.1 1108.8 L390.5 1110.2 L392.8 1113.0 L396.0 1114.0 L399.1 1114.4 L401.6 1112.3 L405.5 1111.2 L407.8 1107.9 L410.3 1104.4 L412.8 1100.9 L415.7 1098.6 L416.7 1095.2 L418.0 1092.0 L419.5 1088.6 L419.8 1084.8 L421.5 1081.4 L423.5 1078.1 L424.3 1074.5 L425.7 1071.0 L425.6 1067.1 L428.0 1063.9 L428.4 1060.1 L429.0 1056.0 L430.5 1052.1 L431.8 1048.2 L431.8 1043.9 L434.1 1040.1 L436.1 1036.0 L437.3 1031.9 L438.5 1027.8 L440.2 1024.2 L441.6 1021.0 L446.0 1021.0 L449.1 1020.2 L451.6 1019.0 L453.2 1020.8 L455.2 1022.9 L457.0 1025.7 L458.2 1028.7 L459.3 1031.9 L459.9 1036.3 L462.2 1039.9 L464.2 1042.4 L466.1 1044.9 L467.5 1048.2 L468.3 1051.8 L470.0 1055.0 L472.2 1057.8 L473.5 1061.3 L476.0 1063.8 L477.4 1067.0 L478.7 1070.2 L482.0 1073.2 L483.6 1077.4 L486.8 1079.2 L488.9 1082.1 L491.1 1085.3 L494.5 1086.0 L496.9 1084.4 L499.9 1082.7 L503.0 1082.0 L505.8 1081.6 L508.6 1079.2 L510.7 1075.8 L514.2 1073.5 L515.6 1069.8 L517.4 1066.0 L519.0 1062.0 L520.8 1058.6 L522.9 1055.3 L522.3 1051.1 L524.1 1047.7 L524.6 1043.8 L526.6 1040.7 L529.1 1038.0 L530.4 1035.1 L532.2 1032.3 L532.5 1028.8 L535.0 1025.7 L535.3 1021.6 L537.6 1018.3 L539.6 1014.7 L542.0 1011.9 L544.6 1009.7 L547.2 1008.7 L550.1 1009.4 L552.8 1010.0 L555.3 1010.7 L557.5 1013.9 L557.2 1018.6 L561.4 1020.5 L563.5 1024.5 L566.3 1027.7 L569.2 1030.8 L571.2 1033.8 L574.1 1035.9 L576.6 1037.9 L578.3 1040.6 L580.8 1043.6 L582.7 1047.2 L585.9 1049.7 L587.9 1053.2 L591.1 1054.3 L593.1 1057.3 L596.0 1058.0 L599.3 1057.0 L601.7 1053.6 L604.0 1051.0 L606.0 1049.0 L607.4 1050.8 L609.0 1053.0 L612.4 1051.5 L614.9 1048.1 L617.9 1044.5 L618.7 1040.8 L621.6 1038.5 L623.3 1034.9 L625.2 1031.4 L628.0 1029.5 L629.5 1026.8 L631.6 1024.5 L633.9 1021.4 L636.8 1018.8 L639.7 1015.9 L640.4 1011.6 L644.0 1009.0 L647.0 1009.6 L650.0 1011.0 L654.2 1009.9 L658.0 1009.0 L660.0 1012.3 L663.0 1015.0 L665.6 1015.4 L668.0 1014.0 L670.3 1016.6 L673.0 1019.1 L675.5 1019.3 L677.9 1020.2 L680.8 1021.7 L684.0 1021.9 L686.7 1024.5 L689.0 1027.0 L692.3 1026.2 L695.8 1024.6 L700.1 1023.5 L703.0 1021.0 L704.6 1023.0 L706.5 1025.0 L710.4 1023.7" fill="none" stroke="#FF0000" stroke-width="6.8" stroke-linejoin="round" stroke-linecap="round"/>
<path d="M127.5 1020.1h0 M130.4 1031.4h0 M134.6 1035.0h0 M135.2 1023.6h0 M135.6 1012.0h0 M135.8 1000.6h0 M135.9 989.0h0 M136.1 977.5h0 M136.2 966.1h0 M136.4 954.5h0 M136.5 943.0h0 M136.5 931.6h0 M136.6 920.0h0 M136.7 908.5h0 M136.8 897.1h0 M136.8 885.5h0 M136.9 874.1h0 M137.0 862.5h0 M137.1 851.0h0 M137.2 839.6h0 M137.3 828.0h0 M137.4 816.6h0 M137.7 805.0h0 M137.9 793.6h0 M138.2 782.0h0 M139.2 780.6h0 M140.4 792.0h0 M141.3 803.3h0 M142.2 814.9h0 M143.2 826.3h0 M144.7 837.6h0 M146.7 848.9h0 M148.8 860.4h0 M151.9 870.4h0 M157.2 868.8h0 M161.2 861.8h0 M167.3 854.3h0 M171.9 846.0h0 M177.6 838.5h0 M183.6 839.0h0 M187.4 848.0h0 M187.9 859.5h0 M188.0 870.9h0 M188.1 882.5h0 M188.2 893.9h0 M188.4 905.5h0 M188.5 917.0h0 M188.7 928.4h0 M189.0 940.0h0 M189.3 951.4h0 M189.6 963.0h0 M189.8 974.5h0 M190.3 985.9h0 M190.7 997.5h0 M191.2 1008.9h0 M191.6 1020.3h0 M192.0 1032.0h0 M192.2 1043.4h0 M192.5 1054.9h0 M192.8 1066.3h0 M193.7 1077.9h0 M194.5 1089.3h0 M196.7 1100.5h0 M201.0 1108.9h0 M210.4 1107.2h0 M215.4 1099.2h0 M219.3 1089.1h0 M222.8 1078.1h0 M226.7 1067.2h0 M230.3 1056.4h0 M232.6 1045.2h0 M233.0 1033.6h0 M233.3 1022.1h0 M233.4 1010.7h0 M233.5 999.1h0 M233.5 987.7h0 M233.6 976.1h0 M233.7 964.7h0 M233.8 953.1h0 M233.8 941.6h0 M233.9 930.2h0 M233.9 918.6h0 M234.0 907.1h0 M234.1 895.7h0 M234.5 884.2h0 M237.0 874.2h0 M239.8 863.6h0 M242.3 852.4h0 M246.1 856.5h0 M251.2 865.1h0 M254.4 876.1h0 M258.3 885.5h0 M261.8 895.6h0 M264.4 906.8h0 M271.0 913.3h0 M274.8 923.3h0 M281.4 929.8h0 M283.5 940.8h0 M284.2 952.2h0 M284.7 963.6h0 M285.3 975.3h0 M285.7 986.7h0 M286.1 998.1h0 M286.6 1009.7h0 M287.0 1021.1h0 M287.5 1032.5h0 M287.9 1044.2h0 M288.4 1055.6h0 M288.8 1067.2h0 M289.3 1078.6h0 M290.1 1090.0h0 M290.8 1101.5h0 M292.2 1112.8h0 M294.5 1124.1h0 M300.0 1131.8h0 M308.2 1130.6h0 M314.1 1124.0h0 M318.3 1114.5h0 M321.7 1103.4h0 M325.3 1094.4h0 M328.3 1084.3h0 M331.6 1074.2h0 M336.2 1066.3h0 M344.3 1066.5h0 M350.9 1073.3h0 M355.4 1083.5h0 M359.3 1093.7h0 M363.3 1103.1h0 M368.0 1112.1h0 M374.3 1119.3h0 M383.0 1123.2h0 M392.1 1121.8h0 M399.3 1115.5h0 M405.0 1107.9h0 M409.5 1099.4h0 M414.8 1091.5h0 M418.5 1082.5h0 M424.0 1074.9h0 M431.7 1070.7h0 M438.6 1077.2h0 M443.6 1085.3h0 M448.9 1093.4h0 M455.3 1100.5h0 M461.9 1107.2h0 M470.9 1110.7h0 M480.0 1109.5h0 M488.3 1104.8h0 M494.3 1097.6h0 M498.9 1089.3h0 M503.4 1080.8h0 M509.0 1073.0h0 M516.9 1067.9h0 M525.4 1067.7h0 M533.9 1071.9h0 M540.9 1078.5h0 M546.9 1085.9h0 M553.6 1092.6h0 M562.6 1091.2h0 M571.4 1088.1h0 M579.0 1082.4h0 M586.8 1076.6h0 M592.1 1069.0h0 M598.4 1062.5h0 M605.9 1058.0h0 M615.3 1058.7h0 M622.7 1063.2h0 M630.2 1068.4h0 M637.0 1074.8h0 M646.0 1077.6h0 M654.4 1079.5h0 M662.7 1075.4h0 M670.2 1071.9h0 M678.4 1067.2h0 M686.3 1061.9h0 M694.4 1056.9h0 M703.5 1057.9h0" fill="none" stroke="#2E75B6" stroke-width="5.5" stroke-linecap="round"/>
</g>
<text transform="translate(119.14 1208.30) scale(0.9750 1)" class="s" font-size="32.30" letter-spacing="-0.9" fill="#595959" stroke="#595959" stroke-width="0.3" stroke-linejoin="round">0</text>
<text transform="translate(207.97 1208.30) scale(0.9750 1)" class="s" font-size="32.30" letter-spacing="-0.9" fill="#595959" stroke="#595959" stroke-width="0.3" stroke-linejoin="round">24</text>
<text transform="translate(305.12 1208.30) scale(0.9750 1)" class="s" font-size="32.30" letter-spacing="-0.9" fill="#595959" stroke="#595959" stroke-width="0.3" stroke-linejoin="round">48</text>
<text transform="translate(402.27 1208.30) scale(0.9750 1)" class="s" font-size="32.30" letter-spacing="-0.9" fill="#595959" stroke="#595959" stroke-width="0.3" stroke-linejoin="round">72</text>
<text transform="translate(499.42 1208.30) scale(0.9750 1)" class="s" font-size="32.30" letter-spacing="-0.9" fill="#595959" stroke="#595959" stroke-width="0.3" stroke-linejoin="round">96</text>
<text transform="translate(588.25 1208.30) scale(0.9750 1)" class="s" font-size="32.30" letter-spacing="-0.9" fill="#595959" stroke="#595959" stroke-width="0.3" stroke-linejoin="round">120</text>
<text transform="translate(685.40 1208.30) scale(0.9750 1)" class="s" font-size="32.30" letter-spacing="-0.9" fill="#595959" stroke="#595959" stroke-width="0.3" stroke-linejoin="round">144</text>
<text transform="translate(61.70 1162.60) scale(0.9660 1)" class="s" font-size="32.30" fill="#000" stroke="#000" stroke-width="0.3" stroke-linejoin="round">0.0</text>
<text transform="translate(60.58 1020.70) scale(0.9660 1)" class="s" font-size="32.30" fill="#000" stroke="#000" stroke-width="0.3" stroke-linejoin="round">0.5</text>
<text transform="translate(61.70 876.90) scale(0.9660 1)" class="s" font-size="32.30" fill="#000" stroke="#000" stroke-width="0.3" stroke-linejoin="round">1.0</text>
<text transform="translate(60.58 735.20) scale(0.9660 1)" class="s" font-size="32.30" fill="#000" stroke="#000" stroke-width="0.3" stroke-linejoin="round">1.5</text>
<text transform="translate(359.75 1245.90) scale(1.0434 1)" class="s" font-size="31.00" fill="#000" stroke="#000" stroke-width="0.3" stroke-linejoin="round">Time (h)</text>
<text transform="translate(37.20 1093.81) rotate(-90) scale(1.0131 1)" class="s" font-size="31.00" fill="#000" stroke="#000" stroke-width="0.3" stroke-linejoin="round">Bioluminescence (a.u.)</text>
<text y="773.90" fill="#000" stroke="#000" stroke-width="0.3" stroke-linejoin="round"><tspan class="si" x="366.75" font-size="37.20" textLength="48.65" lengthAdjust="spacingAndGlyphs">frq</tspan><tspan class="si" x="418.26" dy="-12.50" font-size="26.60" textLength="76.07" lengthAdjust="spacingAndGlyphs">mNLS2</tspan></text>
<text y="927.70" fill="#000" stroke="#000" stroke-width="0.3" stroke-linejoin="round"><tspan class="gi" x="448.77" font-size="36.00" textLength="14.80" lengthAdjust="spacingAndGlyphs">τ</tspan> <tspan class="s" x="472.34" font-size="32.50" textLength="16.77" lengthAdjust="spacingAndGlyphs">=</tspan> <tspan class="s" x="497.32" font-size="32.50" textLength="184.81" lengthAdjust="spacingAndGlyphs">25.42 ± .72 h</tspan></text>
<text y="969.50" fill="#000" stroke="#000" stroke-width="0.3" stroke-linejoin="round"><tspan class="gi" x="448.38" font-size="36.00" textLength="16.26" lengthAdjust="spacingAndGlyphs">γ</tspan> <tspan class="s" x="471.64" font-size="32.50" textLength="16.77" lengthAdjust="spacingAndGlyphs">=</tspan> <tspan class="s" x="496.54" font-size="32.50" textLength="193.87" lengthAdjust="spacingAndGlyphs">.0079 ± .0056</tspan></text>
<text transform="translate(-1.53 674.70) scale(0.8360 1)" class="s" font-size="48.60" fill="#000" stroke="#000" stroke-width="0.6" stroke-linejoin="round">C</text>
</g>
<g id="panel-D">
<rect x="889.00" y="721.20" width="580.60" height="433.80" fill="#F5F5F5"/>
<rect x="894.20" y="721.20" width="49.40" height="433.80" fill="#FFF2CC"/>
<rect x="991.30" y="721.20" width="49.40" height="433.80" fill="#FFF2CC"/>
<rect x="885.90" y="721.70" width="4.40" height="435.60" fill="#000"/>
<rect x="885.90" y="1153.10" width="585.90" height="4.20" fill="#000"/>
<rect x="886.10" y="1155.20" width="4.40" height="11.10" fill="#000"/>
<rect x="983.28" y="1155.20" width="4.40" height="11.10" fill="#000"/>
<rect x="1080.47" y="1155.20" width="4.40" height="11.10" fill="#000"/>
<rect x="1177.65" y="1155.20" width="4.40" height="11.10" fill="#000"/>
<rect x="1274.83" y="1155.20" width="4.40" height="11.10" fill="#000"/>
<rect x="1372.02" y="1155.20" width="4.40" height="11.10" fill="#000"/>
<rect x="1469.20" y="1154.10" width="4.40" height="12.20" fill="#000"/>
<rect x="877.20" y="1153.10" width="10.90" height="4.20" fill="#000"/>
<rect x="877.20" y="1008.73" width="10.90" height="4.20" fill="#000"/>
<rect x="877.20" y="864.37" width="10.90" height="4.20" fill="#000"/>
<rect x="877.20" y="720.00" width="12.10" height="4.20" fill="#000"/>
<clipPath id="cpD"><rect x="887.55" y="692.10" width="586.15" height="473.10"/></clipPath>
<g clip-path="url(#cpD)">
<path d="M888.3 1028.5 L889.3 1032.4 L891.2 1036.1 L891.2 1040.2 L893.2 1044.4 L892.9 1049.9 L894.0 1053.7 L895.2 1054.2 L895.8 1050.8 L896.2 1045.8 L896.4 1039.7 L896.6 1033.0 L896.7 1026.3 L896.8 1020.2 L896.9 1014.7 L896.9 1009.3 L896.9 1003.8 L896.9 998.3 L896.9 992.8 L896.9 987.4 L896.9 981.9 L896.8 976.4 L896.8 970.9 L896.8 965.5 L896.8 960.0 L896.8 954.5 L896.8 949.1 L896.9 943.6 L896.9 938.2 L896.9 932.7 L897.0 927.3 L897.0 921.8 L897.0 916.4 L897.1 910.9 L897.1 905.5 L897.2 900.0 L897.3 895.0 L897.4 890.0 L897.4 885.0 L897.6 880.0 L897.7 875.0 L897.8 870.0 L897.8 863.3 L898.2 859.3 L899.5 861.2 L900.0 865.9 L901.2 870.3 L901.8 875.6 L902.3 881.0 L903.2 885.3 L906.2 883.3 L909.8 885.3 L911.6 882.4 L911.8 878.2 L913.8 874.4 L914.1 870.3 L914.2 866.7 L915.8 863.5 L917.2 860.3 L918.0 856.9 L919.2 853.6 L919.9 850.2 L921.0 846.9 L922.4 843.7 L922.9 840.2 L924.2 836.2 L926.0 832.3 L927.9 828.6 L928.5 823.9 L931.5 820.5 L932.3 816.7 L935.1 814.1 L937.9 812.2 L938.5 808.5 L942.6 806.6 L945.1 808.5 L946.2 812.0 L947.5 816.1 L947.8 820.3 L948.2 825.3 L948.4 830.3 L948.5 835.3 L948.6 840.3 L948.7 845.3 L948.8 850.3 L948.9 855.3 L949.0 860.3 L949.1 865.3 L949.2 870.3 L949.3 876.2 L949.5 882.2 L949.6 888.1 L949.7 894.1 L949.8 900.0 L949.9 905.6 L949.9 911.1 L949.9 916.7 L950.0 922.2 L950.0 927.8 L950.0 933.3 L950.1 938.9 L950.1 944.4 L950.2 950.0 L950.3 955.7 L950.4 961.4 L950.6 967.1 L950.7 972.9 L950.9 978.6 L951.0 984.3 L951.2 990.0 L951.4 995.7 L951.6 1001.4 L951.8 1007.1 L952.0 1012.9 L952.2 1018.6 L952.4 1024.3 L952.6 1030.0 L952.8 1035.0 L953.0 1040.0 L953.1 1045.0 L953.3 1050.0 L953.5 1055.0 L953.8 1060.0 L954.1 1065.6 L954.5 1071.2 L954.8 1076.8 L955.3 1082.4 L955.8 1088.0 L956.4 1093.4 L957.1 1098.7 L958.2 1104.0 L959.5 1107.4 L960.4 1111.0 L961.9 1112.7 L963.9 1110.3 L966.9 1106.6 L967.6 1103.0 L969.1 1099.7 L969.4 1096.0 L971.9 1093.0 L972.7 1089.4 L973.1 1085.7 L974.5 1082.4 L975.3 1078.8 L975.6 1075.1 L977.2 1071.8 L978.2 1068.3 L980.1 1064.4 L980.7 1060.1 L982.8 1056.4 L982.6 1052.4 L985.6 1049.7 L986.8 1046.5 L987.8 1044.0 L989.9 1043.2 L993.3 1046.2 L993.8 1041.8 L994.0 1036.7 L994.0 1031.2 L993.9 1025.6 L993.9 1020.2 L994.0 1014.7 L994.0 1009.3 L994.1 1003.8 L994.1 998.3 L994.1 992.8 L994.2 987.4 L994.2 981.9 L994.2 976.4 L994.2 970.9 L994.3 965.5 L994.3 960.0 L994.3 954.5 L994.4 949.1 L994.4 943.6 L994.5 938.2 L994.5 932.7 L994.5 927.3 L994.6 921.8 L994.6 916.4 L994.6 910.9 L994.7 905.5 L994.7 900.0 L994.6 895.1 L994.5 890.1 L994.4 885.2 L994.7 880.3 L994.8 876.0 L997.4 872.3 L997.9 868.8 L998.4 865.4 L999.5 862.1 L1001.3 858.3 L1002.9 854.5 L1004.3 851.3 L1006.2 853.4 L1006.3 857.0 L1007.3 860.3 L1008.4 865.5 L1009.3 870.8 L1010.3 876.0 L1011.1 880.1 L1012.7 883.9 L1014.0 887.7 L1015.8 891.7 L1016.7 896.4 L1019.5 898.8 L1021.7 901.8 L1024.9 903.5 L1028.3 904.0 L1030.8 903.5 L1033.2 902.8 L1035.7 901.4 L1037.1 898.8 L1038.3 895.3 L1041.3 892.4 L1042.4 889.0 L1044.3 891.8 L1044.8 896.0 L1045.3 900.8 L1045.5 905.6 L1045.7 910.4 L1045.9 915.2 L1046.0 920.0 L1046.2 925.7 L1046.3 931.4 L1046.5 937.1 L1046.6 942.9 L1046.7 948.6 L1046.9 954.3 L1047.0 960.0 L1047.1 965.7 L1047.3 971.4 L1047.4 977.1 L1047.6 982.9 L1047.7 988.6 L1047.9 994.3 L1048.0 1000.0 L1048.1 1005.7 L1048.3 1011.5 L1048.4 1017.2 L1048.5 1023.0 L1048.7 1028.7 L1048.8 1034.5 L1049.0 1040.2 L1049.2 1045.9 L1049.3 1051.7 L1049.5 1057.4 L1049.7 1063.1 L1049.9 1068.8 L1050.1 1074.6 L1050.4 1080.3 L1050.7 1085.4 L1051.0 1090.6 L1051.4 1095.7 L1051.9 1100.9 L1052.4 1106.0 L1053.0 1110.8 L1053.8 1115.5 L1055.0 1120.0 L1057.5 1122.7 L1059.0 1125.0 L1061.6 1123.0 L1063.2 1119.1 L1065.0 1114.9 L1064.9 1110.1 L1066.7 1105.9 L1068.5 1102.1 L1068.5 1097.9 L1069.7 1093.9 L1070.0 1089.8 L1071.7 1085.9 L1073.1 1082.0 L1073.8 1077.9 L1075.2 1073.9 L1077.1 1070.1 L1078.8 1066.4 L1080.1 1062.5 L1082.2 1059.2 L1085.4 1057.1 L1088.0 1055.0 L1091.1 1056.5 L1092.3 1060.4 L1095.0 1063.0 L1096.2 1066.4 L1097.9 1069.7 L1098.0 1073.3 L1098.5 1076.8 L1100.3 1079.9 L1101.6 1083.2 L1102.9 1086.4 L1103.0 1090.0 L1103.3 1094.3 L1105.1 1098.2 L1107.0 1102.0 L1108.5 1105.8 L1109.6 1109.8 L1111.8 1113.2 L1114.2 1115.3 L1116.6 1117.8 L1119.9 1118.6 L1123.0 1119.0 L1125.9 1117.3 L1129.0 1116.0 L1130.9 1112.0 L1132.9 1108.0 L1135.1 1104.2 L1135.5 1099.7 L1138.5 1096.2 L1139.3 1092.0 L1141.0 1088.1 L1141.1 1083.7 L1143.7 1080.7 L1144.4 1077.1 L1144.4 1073.3 L1146.0 1070.0 L1146.8 1066.5 L1149.5 1063.7 L1150.3 1060.1 L1151.7 1056.8 L1152.4 1053.3 L1153.8 1050.4 L1156.0 1048.0 L1158.6 1047.7 L1161.0 1048.6 L1164.6 1050.0 L1166.9 1053.1 L1169.4 1055.4 L1169.2 1059.2 L1170.8 1062.1 L1173.3 1065.7 L1175.1 1069.5 L1177.9 1072.6 L1179.7 1076.2 L1181.2 1079.9 L1184.1 1083.1 L1185.3 1087.7 L1188.8 1088.1 L1191.0 1090.0 L1194.0 1089.0 L1196.7 1089.9 L1198.0 1091.7 L1200.4 1088.7 L1203.9 1085.5 L1205.3 1081.6 L1206.2 1077.6 L1208.6 1074.3 L1209.9 1071.5 L1211.4 1068.7 L1213.4 1066.2 L1214.3 1062.5 L1216.3 1059.3 L1218.9 1056.5 L1220.0 1053.6 L1221.4 1050.7 L1222.9 1048.0 L1224.7 1043.9 L1226.1 1039.7 L1227.0 1036.0 L1229.7 1035.7 L1233.0 1036.4 L1236.2 1034.8 L1239.0 1034.0 L1241.7 1036.9 L1244.2 1040.8 L1246.6 1043.9 L1249.5 1046.6 L1251.0 1050.9 L1254.4 1053.7 L1257.2 1055.8 L1258.7 1059.2 L1261.5 1062.0 L1262.5 1065.0 L1264.6 1063.7 L1267.0 1062.0 L1271.2 1062.3 L1275.0 1064.0 L1277.8 1062.6 L1280.7 1060.5 L1281.6 1056.7 L1282.9 1053.1 L1285.9 1050.5 L1287.0 1046.1 L1290.1 1043.1 L1291.7 1039.3 L1294.5 1036.5 L1296.8 1033.7 L1300.5 1032.9 L1302.7 1030.2 L1305.8 1029.0 L1309.0 1029.0 L1312.6 1029.8 L1315.9 1032.3 L1319.2 1034.2 L1322.9 1035.2 L1325.2 1038.2 L1327.4 1041.8 L1330.8 1042.9 L1334.1 1043.8 L1336.9 1045.8 L1340.5 1046.1 L1342.5 1048.5 L1345.0 1049.7 L1348.1 1049.5 L1351.4 1049.5 L1354.2 1046.2 L1355.7 1041.7 L1358.3 1040.1 L1361.0 1039.0 L1363.6 1039.9 L1366.0 1039.6 L1368.9 1036.8 L1371.5 1033.6 L1374.5 1031.6 L1378.2 1030.6 L1381.0 1029.1 L1384.0 1028.4 L1386.5 1029.0 L1389.1 1029.8 L1391.1 1032.0 L1393.0 1033.6 L1395.3 1032.3 L1398.0 1031.0 L1402.0 1031.0 L1403.9 1034.5 L1407.0 1037.0 L1409.9 1036.6 L1413.0 1037.0 L1416.0 1038.9 L1419.0 1040.4 L1421.6 1040.5 L1422.9 1037.9 L1424.4 1035.3 L1425.5 1032.2 L1428.7 1031.5 L1432.0 1031.9 L1435.9 1031.8 L1439.0 1032.0 L1439.9 1028.2 L1440.0 1023.6 L1440.7 1020.0 L1442.4 1021.1 L1445.3 1022.0 L1447.9 1022.4 L1450.6 1022.0 L1453.5 1020.6 L1456.0 1018.1 L1460.4 1017.0 L1461.2 1020.2 L1463.4 1022.0 L1465.7 1019.7 L1467.4 1017.0 L1469.2 1019.7 L1471.4 1023.6" fill="none" stroke="#FF0000" stroke-width="6.8" stroke-linejoin="round" stroke-linecap="round"/>
<path d="M888.3 1021.3h0 M891.1 1032.5h0 M895.3 1036.5h0 M895.9 1025.2h0 M896.4 1013.5h0 M896.6 1002.1h0 M896.7 990.5h0 M896.9 979.1h0 M897.0 967.5h0 M897.2 956.1h0 M897.3 944.7h0 M897.3 933.1h0 M897.4 921.7h0 M897.5 910.1h0 M897.6 898.7h0 M897.6 887.1h0 M897.7 875.7h0 M897.8 864.1h0 M897.9 852.7h0 M898.0 841.0h0 M898.1 829.6h0 M898.2 818.0h0 M898.4 806.6h0 M898.7 795.2h0 M898.9 783.6h0 M899.5 776.2h0 M900.9 787.5h0 M901.9 798.9h0 M902.8 810.4h0 M903.6 821.8h0 M905.0 833.2h0 M906.8 844.6h0 M909.0 855.9h0 M910.8 867.1h0 M915.8 867.8h0 M920.8 865.4h0 M924.8 854.8h0 M930.6 848.2h0 M936.5 840.7h0 M942.8 834.7h0 M947.7 842.9h0 M948.6 854.1h0 M948.8 865.8h0 M948.9 877.2h0 M949.0 888.7h0 M949.1 900.1h0 M949.3 911.7h0 M949.4 923.1h0 M949.7 934.7h0 M950.0 946.1h0 M950.2 957.7h0 M950.5 969.1h0 M950.9 980.7h0 M951.3 992.1h0 M951.7 1003.5h0 M952.2 1015.2h0 M952.6 1026.6h0 M952.9 1038.2h0 M953.2 1049.6h0 M953.5 1061.2h0 M954.0 1072.6h0 M954.8 1084.0h0 M955.8 1095.4h0 M958.5 1106.7h0 M965.2 1110.5h0 M973.1 1106.6h0 M977.8 1098.2h0 M981.3 1087.3h0 M984.8 1076.3h0 M988.8 1065.5h0 M992.0 1054.5h0 M993.5 1043.1h0 M993.9 1031.6h0 M994.2 1020.2h0 M994.2 1008.5h0 M994.3 997.1h0 M994.4 985.7h0 M994.5 974.1h0 M994.6 962.7h0 M994.6 951.1h0 M994.7 939.7h0 M994.7 928.1h0 M994.8 916.7h0 M994.8 905.1h0 M994.9 893.7h0 M995.4 882.2h0 M998.4 872.5h0 M1000.9 861.5h0 M1003.8 850.8h0 M1007.3 857.1h0 M1012.3 865.6h0 M1015.6 876.7h0 M1019.4 885.8h0 M1022.8 896.1h0 M1025.4 907.3h0 M1032.4 913.5h0 M1035.8 923.8h0 M1042.4 930.1h0 M1044.4 941.5h0 M1045.1 952.9h0 M1045.6 964.3h0 M1046.1 975.9h0 M1046.5 987.3h0 M1047.0 998.9h0 M1047.4 1010.3h0 M1047.9 1021.8h0 M1048.3 1033.4h0 M1048.8 1044.8h0 M1049.2 1056.4h0 M1049.6 1067.8h0 M1050.1 1079.4h0 M1050.8 1090.8h0 M1051.6 1102.2h0 M1052.8 1113.6h0 M1054.9 1125.1h0 M1059.6 1133.4h0 M1067.8 1133.7h0 M1074.2 1127.6h0 M1078.6 1118.4h0 M1081.9 1107.4h0 M1085.5 1098.0h0 M1088.7 1088.3h0 M1091.7 1077.7h0 M1095.5 1069.0h0 M1103.7 1066.7h0 M1110.4 1073.6h0 M1115.3 1082.9h0 M1119.2 1093.6h0 M1123.3 1102.6h0 M1127.6 1112.3h0 M1133.4 1120.0h0 M1141.2 1124.9h0 M1150.6 1124.7h0 M1158.6 1119.6h0 M1164.6 1112.3h0 M1169.1 1103.7h0 M1174.2 1095.7h0 M1178.3 1087.1h0 M1182.9 1078.8h0 M1190.2 1072.8h0 M1198.0 1076.4h0 M1202.9 1084.6h0 M1208.1 1092.7h0 M1213.9 1100.1h0 M1220.6 1107.0h0 M1228.7 1111.9h0 M1237.7 1113.0h0 M1246.4 1108.8h0 M1253.5 1102.6h0 M1258.3 1094.3h0 M1262.7 1085.8h0 M1267.6 1077.7h0 M1274.6 1071.3h0 M1283.2 1067.6h0 M1291.9 1071.5h0 M1299.2 1077.5h0 M1305.7 1084.7h0 M1311.5 1092.0h0 M1320.3 1095.1h0 M1328.5 1091.0h0 M1336.9 1086.6h0 M1344.5 1080.8h0 M1351.1 1074.3h0 M1357.5 1067.7h0 M1362.9 1060.4h0 M1372.1 1060.9h0 M1380.6 1062.0h0 M1388.7 1066.5h0 M1394.2 1074.1h0 M1403.1 1077.7h0 M1411.4 1082.0h0 M1419.9 1078.7h0 M1428.3 1077.2h0 M1435.1 1070.8h0 M1443.5 1066.0h0 M1451.6 1060.8h0 M1460.0 1060.0h0 M1469.1 1058.0h0" fill="none" stroke="#2E75B6" stroke-width="5.5" stroke-linecap="round"/>
</g>
<text transform="translate(879.04 1210.40) scale(0.9750 1)" class="s" font-size="32.30" letter-spacing="-0.9" fill="#595959" stroke="#595959" stroke-width="0.3" stroke-linejoin="round">0</text>
<text transform="translate(967.91 1210.40) scale(0.9750 1)" class="s" font-size="32.30" letter-spacing="-0.9" fill="#595959" stroke="#595959" stroke-width="0.3" stroke-linejoin="round">24</text>
<text transform="translate(1065.09 1210.40) scale(0.9750 1)" class="s" font-size="32.30" letter-spacing="-0.9" fill="#595959" stroke="#595959" stroke-width="0.3" stroke-linejoin="round">48</text>
<text transform="translate(1162.27 1210.40) scale(0.9750 1)" class="s" font-size="32.30" letter-spacing="-0.9" fill="#595959" stroke="#595959" stroke-width="0.3" stroke-linejoin="round">72</text>
<text transform="translate(1259.46 1210.40) scale(0.9750 1)" class="s" font-size="32.30" letter-spacing="-0.9" fill="#595959" stroke="#595959" stroke-width="0.3" stroke-linejoin="round">96</text>
<text transform="translate(1348.32 1210.40) scale(0.9750 1)" class="s" font-size="32.30" letter-spacing="-0.9" fill="#595959" stroke="#595959" stroke-width="0.3" stroke-linejoin="round">120</text>
<text transform="translate(1445.50 1210.40) scale(0.9750 1)" class="s" font-size="32.30" letter-spacing="-0.9" fill="#595959" stroke="#595959" stroke-width="0.3" stroke-linejoin="round">144</text>
<text transform="translate(829.60 1162.60) scale(0.9660 1)" class="s" font-size="32.30" fill="#000" stroke="#000" stroke-width="0.3" stroke-linejoin="round">0.0</text>
<text transform="translate(828.48 1020.70) scale(0.9660 1)" class="s" font-size="32.30" fill="#000" stroke="#000" stroke-width="0.3" stroke-linejoin="round">0.5</text>
<text transform="translate(829.60 876.90) scale(0.9660 1)" class="s" font-size="32.30" fill="#000" stroke="#000" stroke-width="0.3" stroke-linejoin="round">1.0</text>
<text transform="translate(828.48 732.30) scale(0.9660 1)" class="s" font-size="32.30" fill="#000" stroke="#000" stroke-width="0.3" stroke-linejoin="round">1.5</text>
<text transform="translate(1125.36 1255.90) scale(1.0380 1)" class="s" font-size="31.00" fill="#000" stroke="#000" stroke-width="0.3" stroke-linejoin="round">Time (h)</text>
<text transform="translate(794.20 1100.32) rotate(-90) scale(1.0144 1)" class="s" font-size="31.00" fill="#000" stroke="#000" stroke-width="0.3" stroke-linejoin="round">Bioluminescence (a.u.)</text>
<text y="775.50" fill="#000" stroke="#000" stroke-width="0.3" stroke-linejoin="round"><tspan class="si" x="1151.27" font-size="37.20" textLength="47.72" lengthAdjust="spacingAndGlyphs">frq</tspan><tspan class="si" x="1200.75" dy="-12.00" font-size="26.60" textLength="77.37" lengthAdjust="spacingAndGlyphs">mNLS3</tspan></text>
<text y="935.20" fill="#000" stroke="#000" stroke-width="0.3" stroke-linejoin="round"><tspan class="gi" x="1225.37" font-size="36.00" textLength="14.80" lengthAdjust="spacingAndGlyphs">τ</tspan> <tspan class="s" x="1249.64" font-size="32.50" textLength="16.77" lengthAdjust="spacingAndGlyphs">=</tspan> <tspan class="s" x="1273.82" font-size="32.50" textLength="167.57" lengthAdjust="spacingAndGlyphs">18.52 ± .7 h</tspan></text>
<text y="976.60" fill="#000" stroke="#000" stroke-width="0.3" stroke-linejoin="round"><tspan class="gi" x="1225.48" font-size="36.00" textLength="16.26" lengthAdjust="spacingAndGlyphs">γ</tspan> <tspan class="s" x="1249.14" font-size="32.50" textLength="16.77" lengthAdjust="spacingAndGlyphs">=</tspan> <tspan class="s" x="1274.06" font-size="32.50" textLength="174.96" lengthAdjust="spacingAndGlyphs">.0171 ± .007</tspan></text>
<text transform="translate(798.83 674.60) scale(0.8922 1)" class="s" font-size="48.60" fill="#000" stroke="#000" stroke-width="0.6" stroke-linejoin="round">D</text>
</g>
<g id="panel-E">
<rect x="131.00" y="1416.90" width="578.80" height="422.10" fill="#F5F5F5"/>
<rect x="139.80" y="1416.90" width="49.10" height="422.10" fill="#FFF2CC"/>
<rect x="236.30" y="1416.90" width="49.40" height="422.10" fill="#FFF2CC"/>
<rect x="127.75" y="1418.60" width="4.40" height="422.80" fill="#000"/>
<rect x="127.75" y="1837.20" width="583.05" height="4.20" fill="#000"/>
<rect x="127.80" y="1839.30" width="4.40" height="11.10" fill="#000"/>
<rect x="224.53" y="1839.30" width="4.40" height="11.10" fill="#000"/>
<rect x="321.27" y="1839.30" width="4.40" height="11.10" fill="#000"/>
<rect x="418.00" y="1839.30" width="4.40" height="11.10" fill="#000"/>
<rect x="514.73" y="1839.30" width="4.40" height="11.10" fill="#000"/>
<rect x="611.47" y="1839.30" width="4.40" height="11.10" fill="#000"/>
<rect x="708.20" y="1838.20" width="4.40" height="12.20" fill="#000"/>
<rect x="119.05" y="1837.20" width="10.90" height="4.20" fill="#000"/>
<rect x="119.05" y="1697.10" width="10.90" height="4.20" fill="#000"/>
<rect x="119.05" y="1557.00" width="10.90" height="4.20" fill="#000"/>
<rect x="119.05" y="1416.90" width="12.10" height="4.20" fill="#000"/>
<clipPath id="cpE"><rect x="129.25" y="1389.00" width="583.45" height="460.30"/></clipPath>
<g clip-path="url(#cpE)">
<path d="M130.0 1677.0 L131.2 1681.4 L132.4 1685.7 L132.8 1690.3 L133.6 1695.2 L136.1 1700.4 L135.6 1704.9 L137.2 1705.2 L137.6 1701.7 L137.9 1697.1 L138.0 1691.6 L138.1 1685.5 L138.1 1679.1 L138.1 1672.5 L138.2 1666.1 L138.2 1660.2 L138.3 1654.7 L138.3 1649.3 L138.3 1643.8 L138.4 1638.3 L138.4 1632.8 L138.4 1627.4 L138.4 1621.9 L138.5 1616.4 L138.5 1610.9 L138.5 1605.5 L138.6 1600.0 L138.7 1594.3 L138.7 1588.6 L138.8 1582.8 L138.8 1577.1 L139.0 1571.4 L139.1 1565.7 L139.4 1560.0 L139.9 1554.0 L140.6 1548.0 L141.5 1544.2 L141.9 1546.7 L144.3 1551.1 L146.2 1554.5 L148.4 1552.9 L151.6 1552.4 L152.3 1548.2 L154.3 1544.8 L156.3 1541.0 L159.0 1537.5 L158.8 1534.1 L160.4 1531.3 L160.7 1528.1 L162.9 1524.9 L164.3 1521.4 L165.9 1518.5 L167.2 1515.6 L170.2 1514.7 L172.0 1512.2 L176.2 1512.3 L178.5 1514.2 L179.3 1517.2 L181.8 1518.0 L183.0 1520.6 L185.2 1522.9 L187.4 1525.2 L188.8 1528.7 L189.3 1532.3 L189.7 1538.2 L189.7 1544.1 L189.8 1550.0 L189.9 1555.0 L190.0 1560.0 L190.0 1565.0 L190.1 1570.0 L190.2 1575.0 L190.3 1580.0 L190.4 1585.7 L190.6 1591.4 L190.7 1597.1 L190.9 1602.9 L191.0 1608.6 L191.2 1614.3 L191.3 1620.0 L191.4 1625.7 L191.6 1631.4 L191.7 1637.1 L191.9 1642.9 L192.0 1648.6 L192.2 1654.3 L192.3 1660.0 L192.4 1665.7 L192.6 1671.4 L192.7 1677.1 L192.8 1682.9 L193.0 1688.6 L193.1 1694.3 L193.3 1700.0 L193.5 1705.7 L193.6 1711.4 L193.8 1717.1 L194.0 1722.9 L194.2 1728.6 L194.4 1734.3 L194.7 1740.0 L195.0 1745.0 L195.4 1750.0 L195.8 1755.0 L196.2 1760.0 L196.7 1765.0 L197.3 1770.0 L198.0 1775.4 L199.0 1780.8 L200.3 1786.0 L201.4 1790.9 L204.3 1793.4 L206.3 1791.3 L209.2 1788.3 L211.3 1785.2 L212.9 1781.8 L214.4 1778.3 L215.7 1774.3 L217.5 1770.5 L218.7 1766.4 L220.2 1762.5 L221.3 1758.4 L221.4 1754.0 L222.7 1750.0 L223.9 1745.9 L226.2 1742.2 L228.1 1738.2 L230.5 1734.4 L232.6 1731.9 L234.3 1729.3 L235.5 1724.9 L235.9 1720.3 L236.0 1714.8 L236.1 1709.4 L236.2 1703.9 L236.2 1698.5 L236.2 1693.0 L236.2 1687.5 L236.2 1682.1 L236.2 1676.6 L236.2 1671.1 L236.3 1665.7 L236.3 1660.2 L236.3 1654.6 L236.4 1649.0 L236.4 1643.5 L236.4 1637.9 L236.4 1632.3 L236.5 1626.7 L236.5 1621.1 L236.7 1615.6 L236.9 1610.0 L237.2 1605.5 L237.8 1601.0 L238.5 1596.5 L239.3 1592.0 L239.5 1587.8 L241.8 1584.1 L242.3 1580.0 L243.0 1575.2 L243.6 1570.4 L244.7 1566.0 L248.3 1565.0 L250.1 1567.5 L252.5 1569.9 L257.1 1571.0 L258.5 1575.2 L260.8 1578.8 L261.9 1582.1 L263.2 1585.3 L264.6 1588.6 L267.5 1591.3 L270.6 1593.8 L272.8 1596.2 L275.4 1598.0 L279.4 1598.0 L282.8 1596.0 L283.8 1598.8 L285.4 1602.0 L285.9 1606.4 L286.2 1610.9 L286.3 1615.5 L286.4 1620.0 L286.6 1625.7 L286.7 1631.5 L286.9 1637.2 L287.0 1643.0 L287.1 1648.7 L287.3 1654.5 L287.4 1660.2 L287.5 1665.9 L287.7 1671.6 L287.8 1677.3 L287.9 1683.1 L288.1 1688.8 L288.2 1694.5 L288.4 1700.2 L288.6 1705.9 L288.8 1711.6 L288.9 1717.3 L289.1 1722.9 L289.3 1728.6 L289.6 1734.3 L289.8 1740.0 L290.0 1745.0 L290.2 1750.0 L290.5 1755.0 L290.8 1760.0 L291.1 1765.0 L291.4 1770.0 L291.8 1775.0 L292.3 1780.0 L292.8 1785.0 L293.5 1790.0 L294.9 1793.2 L294.5 1796.8 L295.5 1800.2 L297.0 1802.8 L298.8 1805.2 L303.0 1806.6 L304.7 1803.8 L307.9 1801.4 L308.9 1796.9 L309.8 1792.4 L310.7 1787.9 L311.8 1784.0 L312.4 1779.9 L314.3 1776.1 L316.0 1772.2 L316.7 1768.2 L316.0 1763.8 L317.0 1759.8 L319.9 1756.2 L319.5 1752.4 L320.5 1748.9 L322.2 1745.6 L323.1 1742.0 L324.0 1737.9 L325.4 1733.9 L327.3 1730.1 L328.3 1727.0 L331.2 1725.2 L333.6 1722.4 L334.6 1718.6 L337.1 1716.8 L339.7 1715.6 L342.1 1716.8 L344.5 1717.9 L346.5 1719.5 L349.3 1720.8 L350.7 1723.7 L352.6 1726.2 L354.5 1728.7 L356.6 1732.2 L357.6 1736.2 L359.9 1739.6 L360.5 1743.4 L363.2 1746.2 L364.7 1749.6 L365.6 1753.1 L368.1 1755.6 L369.2 1758.9 L370.2 1762.0 L371.8 1764.7 L374.0 1767.0 L377.3 1769.7 L379.9 1772.1 L381.4 1775.8 L384.4 1776.1 L387.0 1776.0 L389.4 1774.1 L391.8 1771.8 L395.2 1770.2 L397.6 1767.6 L399.9 1764.9 L402.0 1762.0 L404.4 1758.9 L406.3 1755.6 L407.8 1751.9 L410.7 1749.1 L411.8 1745.2 L413.3 1741.6 L416.5 1738.5 L418.9 1734.9 L420.8 1731.8 L422.7 1728.6 L425.3 1727.7 L427.6 1726.1 L430.2 1725.0 L433.0 1724.0 L435.8 1722.5 L439.0 1723.0 L442.1 1723.2 L445.2 1723.9 L448.0 1725.7 L451.0 1726.5 L453.6 1728.7 L456.2 1730.7 L458.6 1733.2 L462.2 1733.4 L465.3 1734.1 L468.3 1735.1 L471.3 1736.9 L474.0 1738.0 L476.2 1736.0 L477.8 1732.8 L480.5 1731.3 L482.4 1729.7 L484.6 1732.1 L488.0 1733.0 L490.5 1732.4 L493.1 1731.2 L495.9 1729.3 L498.2 1726.7 L500.0 1723.9 L502.9 1722.4 L505.7 1721.6 L508.0 1719.9 L510.4 1718.4 L512.5 1716.7 L514.7 1714.0 L518.4 1713.9 L520.7 1711.1 L523.9 1710.4 L527.0 1711.2 L530.0 1710.4 L533.0 1710.6 L536.0 1711.0 L538.9 1710.2 L542.0 1710.0 L545.0 1710.1 L548.0 1710.0 L550.8 1708.5 L554.0 1708.0 L557.0 1708.2 L560.0 1708.0 L563.0 1707.7 L566.1 1707.4 L569.4 1706.3 L572.0 1704.0 L575.0 1703.7 L577.9 1705.2 L580.5 1705.5 L583.0 1705.0 L585.9 1704.1 L588.5 1702.5 L590.9 1700.7 L593.0 1699.0 L595.8 1699.0 L598.0 1701.0 L601.7 1701.9 L605.0 1700.1 L607.9 1697.7 L610.0 1695.0 L612.5 1695.8 L615.0 1697.0 L617.7 1696.0 L619.7 1693.1 L622.9 1693.3 L626.0 1693.6 L629.0 1693.4 L632.0 1694.1 L635.1 1694.3 L638.0 1694.4 L640.9 1692.6 L642.7 1690.0 L644.8 1691.2 L647.0 1692.4 L650.3 1690.6 L654.0 1689.0 L657.0 1688.7 L660.0 1689.0 L663.4 1691.2 L667.0 1691.6 L670.1 1689.7 L673.0 1687.0 L676.4 1687.0 L680.0 1687.0 L682.8 1685.4 L685.9 1685.3 L688.9 1684.4 L692.0 1685.0 L695.1 1684.8 L698.0 1686.0 L700.9 1684.5 L704.0 1684.0 L707.4 1685.1 L710.4 1687.6" fill="none" stroke="#FF0000" stroke-width="6.8" stroke-linejoin="round" stroke-linecap="round"/>
<path d="M130.0 1709.3h0 M132.9 1720.6h0 M137.1 1723.6h0 M137.6 1712.2h0 M138.1 1700.6h0 M138.3 1689.1h0 M138.4 1677.7h0 M138.6 1666.1h0 M138.7 1654.6h0 M138.9 1643.2h0 M138.9 1631.6h0 M139.0 1620.1h0 M139.1 1608.7h0 M139.2 1597.0h0 M139.2 1585.6h0 M139.3 1574.2h0 M139.4 1562.6h0 M139.5 1551.2h0 M139.6 1539.5h0 M139.7 1528.1h0 M139.8 1516.5h0 M140.0 1505.1h0 M140.2 1493.7h0 M140.5 1482.1h0 M140.7 1470.7h0 M142.3 1479.8h0 M143.3 1491.1h0 M144.2 1502.7h0 M145.1 1514.1h0 M146.5 1525.5h0 M148.3 1536.8h0 M150.5 1548.3h0 M152.3 1559.5h0 M157.4 1560.4h0 M162.4 1557.9h0 M166.7 1547.6h0 M172.3 1540.9h0 M178.3 1533.5h0 M184.7 1529.1h0 M189.4 1537.4h0 M190.1 1548.9h0 M190.2 1560.3h0 M190.3 1571.8h0 M190.4 1583.4h0 M190.6 1594.8h0 M190.7 1606.3h0 M190.9 1617.9h0 M191.2 1629.3h0 M191.5 1640.7h0 M191.8 1652.4h0 M192.0 1663.8h0 M192.5 1675.4h0 M192.9 1686.8h0 M193.4 1698.2h0 M193.9 1709.9h0 M194.2 1721.3h0 M194.5 1732.7h0 M194.8 1744.3h0 M195.1 1755.7h0 M196.0 1767.3h0 M196.9 1778.7h0 M199.3 1789.9h0 M204.8 1796.2h0 M213.5 1793.6h0 M218.4 1785.4h0 M222.1 1774.8h0 M225.7 1763.8h0 M229.7 1753.0h0 M233.1 1742.1h0 M234.8 1730.7h0 M235.1 1719.3h0 M235.4 1707.9h0 M235.5 1696.3h0 M235.5 1684.8h0 M235.6 1673.2h0 M235.7 1661.8h0 M235.8 1650.2h0 M235.8 1638.8h0 M235.9 1627.3h0 M236.0 1615.7h0 M236.0 1604.3h0 M236.1 1592.8h0 M236.2 1581.4h0 M237.2 1570.2h0 M240.7 1560.5h0 M243.2 1549.3h0 M246.9 1544.4h0 M251.3 1553.8h0 M255.0 1564.2h0 M258.8 1574.2h0 M262.6 1583.7h0 M265.6 1594.6h0 M270.4 1603.5h0 M275.4 1611.7h0 M280.9 1619.6h0 M284.9 1628.7h0 M285.9 1640.1h0 M286.5 1651.5h0 M287.0 1663.0h0 M287.4 1674.6h0 M287.9 1686.0h0 M288.3 1697.6h0 M288.8 1709.1h0 M289.2 1720.5h0 M289.7 1732.1h0 M290.2 1743.5h0 M290.6 1755.0h0 M291.1 1766.6h0 M291.9 1778.0h0 M292.6 1789.4h0 M294.1 1800.8h0 M296.6 1811.9h0 M302.3 1819.2h0 M310.5 1817.6h0 M316.3 1810.4h0 M320.4 1800.6h0 M323.7 1789.9h0 M327.4 1780.9h0 M330.4 1770.5h0 M333.9 1760.8h0 M339.6 1753.9h0 M347.2 1756.1h0 M353.7 1763.3h0 M357.8 1774.0h0 M361.8 1783.5h0 M365.9 1793.7h0 M371.0 1801.9h0 M377.9 1808.3h0 M387.1 1810.6h0 M395.9 1807.2h0 M402.6 1800.6h0 M407.8 1792.6h0 M412.7 1784.3h0 M417.4 1776.2h0 M421.1 1767.3h0 M428.1 1760.9h0 M436.1 1761.1h0 M441.8 1768.7h0 M447.0 1776.7h0 M452.7 1784.4h0 M459.4 1791.2h0 M467.1 1796.5h0 M476.3 1799.0h0 M485.0 1795.0h0 M492.8 1789.4h0 M497.6 1781.3h0 M502.2 1772.8h0 M507.0 1764.7h0 M514.0 1758.2h0 M522.5 1754.0h0 M531.3 1758.0h0 M538.8 1763.6h0 M545.4 1770.7h0 M551.3 1778.0h0 M560.0 1781.0h0 M568.5 1777.0h0 M576.6 1772.6h0 M584.4 1766.9h0 M591.0 1760.2h0 M597.5 1753.7h0 M603.4 1746.9h0 M612.5 1747.8h0 M620.8 1749.7h0 M628.8 1754.2h0 M634.9 1761.5h0 M643.8 1764.3h0 M652.1 1768.8h0 M660.5 1764.2h0 M668.8 1762.0h0 M676.2 1756.6h0 M684.3 1751.6h0 M692.5 1746.5h0 M701.3 1746.9h0" fill="none" stroke="#2E75B6" stroke-width="5.5" stroke-linecap="round"/>
</g>
<text transform="translate(121.04 1895.40) scale(0.9750 1)" class="s" font-size="32.30" letter-spacing="-0.9" fill="#595959" stroke="#595959" stroke-width="0.3" stroke-linejoin="round">0</text>
<text transform="translate(209.46 1895.40) scale(0.9750 1)" class="s" font-size="32.30" letter-spacing="-0.9" fill="#595959" stroke="#595959" stroke-width="0.3" stroke-linejoin="round">24</text>
<text transform="translate(306.19 1895.40) scale(0.9750 1)" class="s" font-size="32.30" letter-spacing="-0.9" fill="#595959" stroke="#595959" stroke-width="0.3" stroke-linejoin="round">48</text>
<text transform="translate(402.92 1895.40) scale(0.9750 1)" class="s" font-size="32.30" letter-spacing="-0.9" fill="#595959" stroke="#595959" stroke-width="0.3" stroke-linejoin="round">72</text>
<text transform="translate(499.66 1895.40) scale(0.9750 1)" class="s" font-size="32.30" letter-spacing="-0.9" fill="#595959" stroke="#595959" stroke-width="0.3" stroke-linejoin="round">96</text>
<text transform="translate(588.07 1895.40) scale(0.9750 1)" class="s" font-size="32.30" letter-spacing="-0.9" fill="#595959" stroke="#595959" stroke-width="0.3" stroke-linejoin="round">120</text>
<text transform="translate(684.80 1895.40) scale(0.9750 1)" class="s" font-size="32.30" letter-spacing="-0.9" fill="#595959" stroke="#595959" stroke-width="0.3" stroke-linejoin="round">144</text>
<text transform="translate(66.70 1851.60) scale(0.9660 1)" class="s" font-size="32.30" fill="#000" stroke="#000" stroke-width="0.3" stroke-linejoin="round">0.0</text>
<text transform="translate(65.58 1709.50) scale(0.9660 1)" class="s" font-size="32.30" fill="#000" stroke="#000" stroke-width="0.3" stroke-linejoin="round">0.5</text>
<text transform="translate(66.70 1569.60) scale(0.9660 1)" class="s" font-size="32.30" fill="#000" stroke="#000" stroke-width="0.3" stroke-linejoin="round">1.0</text>
<text transform="translate(65.58 1428.00) scale(0.9660 1)" class="s" font-size="32.30" fill="#000" stroke="#000" stroke-width="0.3" stroke-linejoin="round">1.5</text>
<text transform="translate(376.85 1934.00) scale(1.0478 1)" class="s" font-size="31.00" fill="#000" stroke="#000" stroke-width="0.3" stroke-linejoin="round">Time (h)</text>
<text transform="translate(40.00 1791.01) rotate(-90) scale(1.0124 1)" class="s" font-size="31.00" fill="#000" stroke="#000" stroke-width="0.3" stroke-linejoin="round">Bioluminescence (a.u.)</text>
<text y="1463.30" fill="#000" stroke="#000" stroke-width="0.3" stroke-linejoin="round"><tspan class="si" x="320.85" font-size="37.20" textLength="48.54" lengthAdjust="spacingAndGlyphs">frq</tspan><tspan class="si" x="371.12" dy="-11.20" font-size="26.60" textLength="126.77" lengthAdjust="spacingAndGlyphs">mNLS1/2/3</tspan></text>
<text y="1612.80" fill="#303030" stroke="#303030" stroke-width="0.3" stroke-linejoin="round"><tspan class="gi" x="441.57" font-size="36.00" textLength="14.80" lengthAdjust="spacingAndGlyphs">τ</tspan> <tspan class="s" x="465.84" font-size="32.50" textLength="16.77" lengthAdjust="spacingAndGlyphs">=</tspan> <tspan class="s" x="490.82" font-size="32.50" textLength="201.96" lengthAdjust="spacingAndGlyphs">23.88 ± 1.33 h</tspan></text>
<text y="1654.90" fill="#303030" stroke="#303030" stroke-width="0.3" stroke-linejoin="round"><tspan class="gi" x="440.88" font-size="36.00" textLength="16.26" lengthAdjust="spacingAndGlyphs">γ</tspan> <tspan class="s" x="464.74" font-size="32.50" textLength="16.77" lengthAdjust="spacingAndGlyphs">=</tspan> <tspan class="s" x="489.65" font-size="32.50" textLength="193.42" lengthAdjust="spacingAndGlyphs">.0275 ± .0062</tspan></text>
<text transform="translate(-0.23 1358.90) scale(0.7287 1)" class="s" font-size="48.60" fill="#000" stroke="#000" stroke-width="0.6" stroke-linejoin="round">E</text>
</g>
</svg>
</body></html>
